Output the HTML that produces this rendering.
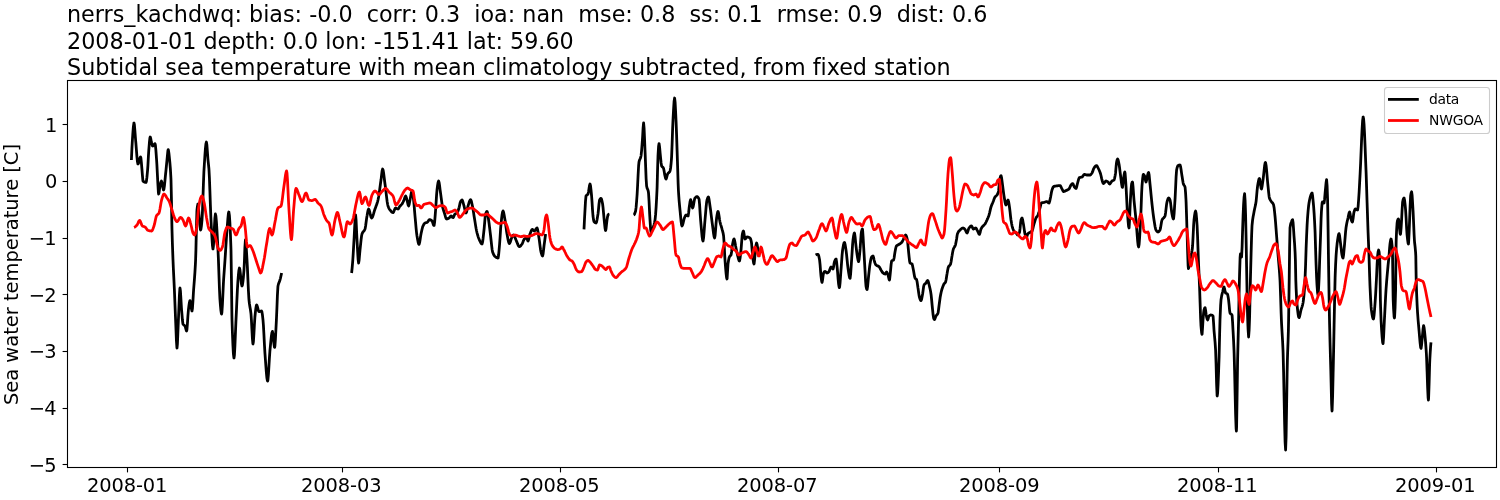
<!DOCTYPE html>
<html lang="en"><head><meta charset="utf-8"><title>nerrs_kachdwq</title>
<style>html,body{margin:0;padding:0;background:#fff}body{width:1500px;height:500px;overflow:hidden}svg{display:block}text{font-family:"DejaVu Sans", "Liberation Sans", sans-serif;fill:#000;font-variant-ligatures:none}</style></head><body>
<svg width="1500" height="500" viewBox="0 0 1500 500">
<rect width="1500" height="500" fill="#fff"/>
<text x="67.0" y="22.0" font-size="22.27" xml:space="preserve">nerrs_kachdwq: bias: -0.0  corr: 0.3  ioa: nan  mse: 0.8  ss: 0.1  rmse: 0.9  dist: 0.6</text>
<text x="67.0" y="48.6" font-size="22.27" xml:space="preserve">2008-01-01 depth: 0.0 lon: -151.41 lat: 59.60</text>
<text x="67.0" y="75.2" font-size="22.27" xml:space="preserve">Subtidal sea temperature with mean climatology subtracted, from fixed station</text>
<g fill="none" stroke-width="2.78" stroke-linejoin="round" stroke-linecap="butt">
<path stroke="#000" d="M131.4 160.0 L131.9 148.8 L132.4 140.0 L132.9 132.7 L133.4 126.4 L133.9 123.1 L134.0 123.0 L134.4 124.9 L134.9 130.8 L135.4 137.7 L135.6 140.0 L135.9 143.4 L136.4 149.9 L136.9 156.3 L137.4 161.4 L137.9 163.9 L138.0 164.0 L138.4 163.6 L138.9 162.1 L139.4 160.1 L139.9 158.2 L140.4 157.1 L140.6 157.0 L140.9 158.0 L141.4 162.9 L141.9 168.9 L142.0 170.0 L142.4 175.2 L142.9 180.7 L143.0 181.0 L143.4 181.4 L143.9 181.8 L144.4 182.1 L144.9 182.2 L145.4 182.4 L145.9 182.4 L146.0 182.4 L146.4 181.3 L146.9 177.4 L147.4 172.2 L147.6 170.0 L147.9 165.7 L148.4 156.4 L148.8 150.0 L148.9 148.8 L149.4 142.5 L149.9 137.9 L150.2 137.0 L150.4 137.2 L150.9 139.4 L151.4 142.2 L151.6 143.0 L151.9 144.2 L152.4 145.8 L152.6 146.0 L152.9 145.9 L153.4 145.4 L153.9 144.7 L154.4 144.0 L154.9 143.6 L155.0 143.6 L155.4 145.2 L155.9 150.4 L156.4 157.3 L156.6 160.0 L156.9 164.8 L157.4 174.7 L157.9 184.4 L158.0 186.0 L158.4 192.6 L158.6 194.0 L158.9 193.3 L159.4 190.0 L159.9 186.5 L160.0 186.0 L160.4 184.1 L160.9 182.0 L161.4 181.0 L161.9 182.2 L162.4 184.9 L162.9 187.8 L163.4 189.8 L163.6 190.0 L163.9 189.4 L164.4 186.1 L164.9 181.2 L165.4 175.9 L165.6 174.0 L165.9 171.2 L166.4 166.0 L166.9 160.9 L167.0 160.0 L167.4 155.7 L167.9 150.7 L168.2 149.6 L168.4 149.9 L168.9 153.1 L169.4 158.0 L169.6 160.0 L169.9 163.0 L170.4 169.1 L170.9 177.8 L171.0 180.0 L171.4 197.3 L171.9 225.8 L172.0 230.0 L172.4 243.5 L172.9 257.5 L173.0 260.0 L173.4 269.2 L173.9 279.4 L174.4 290.0 L174.9 302.5 L175.4 315.3 L175.6 320.0 L175.9 327.4 L176.4 340.3 L176.9 347.7 L177.0 348.0 L177.4 344.1 L177.9 332.3 L178.4 320.0 L178.9 307.9 L179.4 295.3 L179.9 288.2 L180.0 288.0 L180.4 290.6 L180.9 298.5 L181.4 307.3 L181.6 310.0 L181.9 313.7 L182.4 319.8 L182.9 323.7 L183.0 324.0 L183.4 324.6 L183.9 325.0 L184.4 325.4 L184.9 325.9 L185.0 326.0 L185.4 327.1 L185.9 329.2 L186.4 330.8 L186.6 331.0 L186.9 329.8 L187.4 323.8 L187.9 316.0 L188.4 310.0 L188.9 306.0 L189.4 302.5 L189.9 300.7 L190.0 300.6 L190.4 301.7 L190.9 305.0 L191.4 308.8 L191.9 310.9 L192.0 311.0 L192.4 308.8 L192.9 301.6 L193.4 293.0 L193.6 290.0 L193.9 286.0 L194.4 279.6 L194.9 272.6 L195.4 264.1 L195.6 260.0 L195.9 250.6 L196.4 228.4 L196.9 211.4 L197.0 210.0 L197.4 206.5 L197.9 204.1 L198.0 204.0 L198.4 206.4 L198.9 213.4 L199.4 220.0 L199.9 225.4 L200.4 229.5 L200.6 230.0 L200.9 229.4 L201.4 226.0 L201.9 221.1 L202.0 220.0 L202.4 213.1 L202.9 199.4 L203.4 184.2 L203.9 171.8 L204.0 170.0 L204.4 163.5 L204.9 155.5 L205.4 148.6 L205.9 143.8 L206.4 142.0 L206.9 145.0 L207.4 151.8 L207.9 158.9 L208.0 160.0 L208.4 163.7 L208.9 168.7 L209.0 170.0 L209.4 177.5 L209.9 190.9 L210.4 205.5 L210.9 218.0 L211.0 220.0 L211.4 227.7 L211.9 237.3 L212.4 245.0 L212.9 248.9 L213.0 249.0 L213.4 246.4 L213.9 237.9 L214.4 227.2 L214.9 217.9 L215.4 214.0 L215.9 216.1 L216.4 221.6 L216.9 229.5 L217.4 238.7 L217.9 248.2 L218.0 250.0 L218.4 259.0 L218.9 273.3 L219.4 287.7 L219.9 298.6 L220.0 300.0 L220.4 305.1 L220.9 310.5 L221.4 313.7 L221.6 314.0 L221.9 312.5 L222.4 305.0 L222.9 294.1 L223.4 283.5 L223.6 280.0 L223.9 275.5 L224.4 268.5 L224.9 261.4 L225.0 260.0 L225.4 253.9 L225.9 245.9 L226.4 238.2 L226.9 231.2 L227.0 230.0 L227.4 224.8 L227.9 218.3 L228.4 213.4 L228.8 212.0 L228.9 212.1 L229.4 215.4 L229.9 222.8 L230.4 233.6 L230.9 247.0 L231.0 250.0 L231.4 275.9 L231.9 315.7 L232.0 320.0 L232.4 332.1 L232.9 344.8 L233.4 353.8 L233.9 357.9 L234.0 358.0 L234.4 355.3 L234.9 346.2 L235.4 333.9 L235.9 322.0 L236.0 320.0 L236.4 311.6 L236.9 300.3 L237.4 289.6 L237.9 281.3 L238.0 280.0 L238.4 275.2 L238.9 270.2 L239.4 268.0 L239.9 269.7 L240.4 273.9 L240.9 279.1 L241.4 283.6 L241.9 285.9 L242.0 286.0 L242.4 285.1 L242.9 281.9 L243.4 277.0 L243.9 271.2 L244.0 270.0 L244.4 261.6 L244.9 247.4 L245.4 240.0 L245.9 243.0 L246.4 250.1 L246.9 258.4 L247.0 260.0 L247.4 267.4 L247.9 278.9 L248.4 290.2 L248.9 298.8 L249.0 300.0 L249.4 303.5 L249.9 306.7 L250.4 309.5 L250.9 313.1 L251.0 314.0 L251.4 319.6 L251.9 329.4 L252.4 338.7 L252.9 343.8 L253.0 344.0 L253.4 341.7 L253.9 334.1 L254.4 324.7 L254.9 317.0 L255.0 316.0 L255.4 312.2 L255.9 307.9 L256.4 305.3 L256.6 305.0 L256.9 305.3 L257.4 306.7 L257.9 308.7 L258.4 310.6 L258.9 311.6 L259.0 311.6 L259.4 311.6 L259.9 311.4 L260.4 311.3 L260.9 311.1 L261.4 311.0 L261.6 311.0 L261.9 311.6 L262.4 314.7 L262.9 319.1 L263.0 320.0 L263.4 325.0 L263.9 334.0 L264.4 344.0 L264.9 352.6 L265.0 354.0 L265.4 359.5 L265.9 366.5 L266.4 372.9 L266.9 378.0 L267.4 380.7 L267.6 381.0 L267.9 380.0 L268.4 374.7 L268.9 366.7 L269.4 358.1 L269.9 351.0 L270.0 350.0 L270.4 345.9 L270.9 340.7 L271.4 336.0 L271.9 332.7 L272.4 331.4 L272.9 333.5 L273.4 338.3 L273.9 343.6 L274.4 347.0 L274.6 347.4 L274.9 346.1 L275.4 339.5 L275.9 329.8 L276.4 320.0 L276.9 308.5 L277.4 295.5 L277.9 286.8 L278.0 286.0 L278.4 284.2 L278.9 282.8 L279.4 281.7 L279.9 280.3 L280.0 280.0 L280.4 278.5 L280.9 276.3 L281.4 274.0 L281.6 273.0"/>
<path stroke="#000" d="M351.6 273.0 L352.1 268.4 L352.6 262.6 L352.8 260.0 L353.1 255.6 L353.6 246.9 L354.0 240.0 L354.1 238.3 L354.6 228.3 L355.1 219.1 L355.6 215.0 L356.1 220.5 L356.6 231.8 L357.0 240.0 L357.1 241.7 L357.6 251.0 L358.1 259.4 L358.6 263.0 L359.1 260.2 L359.6 254.3 L360.0 250.0 L360.1 249.1 L360.6 244.4 L361.1 239.7 L361.6 235.8 L362.0 234.0 L362.1 233.7 L362.6 232.6 L363.1 231.9 L363.6 231.3 L364.1 230.8 L364.6 229.9 L365.0 229.0 L365.1 228.7 L365.6 226.0 L366.1 222.3 L366.6 218.5 L367.0 216.0 L367.1 215.5 L367.6 212.6 L368.1 210.1 L368.6 209.0 L369.1 209.7 L369.6 211.3 L370.1 213.5 L370.6 215.7 L371.1 217.3 L371.6 218.0 L372.1 217.6 L372.6 216.7 L373.1 215.3 L373.6 213.7 L374.1 211.9 L374.6 210.2 L375.0 209.0 L375.1 208.7 L375.6 207.4 L376.1 206.1 L376.6 204.7 L377.1 203.2 L377.6 201.6 L378.0 200.0 L378.1 199.6 L378.6 197.0 L379.1 193.8 L379.6 190.3 L380.1 186.5 L380.6 182.8 L381.0 180.0 L381.1 179.3 L381.6 174.9 L382.1 170.8 L382.6 169.0 L383.1 170.1 L383.6 173.0 L384.1 176.9 L384.6 181.0 L385.0 184.0 L385.1 184.7 L385.6 188.6 L386.1 192.9 L386.6 197.2 L387.1 201.2 L387.6 204.3 L388.0 206.0 L388.1 206.3 L388.6 207.6 L389.1 208.6 L389.6 209.5 L390.0 210.0 L390.1 210.1 L390.6 210.7 L391.1 211.3 L391.6 211.9 L392.1 212.3 L392.6 212.5 L393.0 212.6 L393.1 212.6 L393.6 212.0 L394.1 210.8 L394.6 209.5 L395.1 208.4 L395.6 208.0 L396.1 208.1 L396.6 208.4 L397.1 208.7 L397.6 208.9 L398.0 209.0 L398.1 209.0 L398.6 208.5 L399.1 207.6 L399.6 206.6 L400.0 206.0 L400.1 205.9 L400.6 205.4 L401.1 204.9 L401.6 204.5 L402.0 204.0 L402.1 203.9 L402.6 203.0 L403.1 202.0 L403.6 200.9 L404.0 200.0 L404.1 199.8 L404.6 198.2 L405.1 196.7 L405.6 196.0 L406.1 196.8 L406.6 198.5 L407.0 200.0 L407.1 200.4 L407.6 202.7 L408.1 205.0 L408.6 206.0 L409.1 204.8 L409.6 202.1 L410.0 200.0 L410.1 199.5 L410.6 196.8 L411.1 193.9 L411.6 191.7 L412.0 191.0 L412.1 191.1 L412.6 192.8 L413.1 196.1 L413.6 200.0 L414.1 205.0 L414.6 211.3 L415.0 216.0 L415.1 217.1 L415.6 222.7 L416.1 228.3 L416.6 233.1 L417.0 236.0 L417.1 236.6 L417.6 239.6 L418.1 242.1 L418.6 243.9 L419.0 244.4 L419.1 244.3 L419.6 242.7 L420.1 239.7 L420.6 236.2 L421.0 234.0 L421.1 233.5 L421.6 231.2 L422.1 229.0 L422.6 227.1 L423.0 226.0 L423.1 225.8 L423.6 224.8 L424.1 223.9 L424.6 223.3 L425.0 223.0 L425.1 223.0 L425.6 222.8 L426.1 222.7 L426.6 222.5 L427.0 222.4 L427.1 222.3 L427.6 221.9 L428.1 221.2 L428.6 220.4 L429.1 219.8 L429.6 219.6 L430.1 219.7 L430.6 219.9 L431.1 220.2 L431.6 220.6 L432.0 221.0 L432.1 221.1 L432.6 222.3 L433.1 223.9 L433.6 225.2 L434.0 225.6 L434.1 225.5 L434.6 222.3 L435.1 216.4 L435.6 210.0 L436.1 202.7 L436.6 194.7 L437.0 190.0 L437.1 189.2 L437.6 185.2 L438.1 182.2 L438.6 181.0 L439.1 182.4 L439.6 185.8 L440.1 189.8 L440.4 192.0 L440.6 193.4 L441.1 197.1 L441.6 201.0 L442.1 204.4 L442.4 206.0 L442.6 206.9 L443.1 208.9 L443.6 210.5 L444.1 212.1 L444.4 213.0 L444.6 213.6 L445.1 215.4 L445.6 217.2 L446.1 218.5 L446.6 219.0 L447.1 218.9 L447.6 218.8 L448.1 218.5 L448.6 218.2 L449.0 218.0 L449.1 217.9 L449.6 217.4 L450.1 216.7 L450.6 216.2 L451.0 216.0 L451.1 216.0 L451.6 216.3 L452.1 216.9 L452.6 217.4 L453.0 217.6 L453.1 217.6 L453.6 216.9 L454.1 215.7 L454.6 214.6 L455.0 214.0 L455.1 213.9 L455.6 213.7 L456.1 213.5 L456.6 213.3 L457.0 213.0 L457.1 212.9 L457.6 212.1 L458.1 210.8 L458.6 209.3 L459.0 208.0 L459.1 207.6 L459.6 205.3 L460.1 202.9 L460.4 202.0 L460.6 201.6 L461.1 200.8 L461.6 200.2 L462.0 200.0 L462.1 200.0 L462.6 200.9 L463.1 202.6 L463.6 204.5 L464.0 206.0 L464.1 206.3 L464.6 208.5 L465.1 210.7 L465.6 212.5 L466.0 213.0 L466.1 213.0 L466.6 211.9 L467.1 209.8 L467.6 207.5 L468.0 206.0 L468.1 205.7 L468.6 204.1 L469.1 202.5 L469.6 201.0 L470.1 200.0 L470.6 199.6 L471.1 200.4 L471.6 202.2 L472.1 204.6 L472.4 206.0 L472.6 206.9 L473.1 209.7 L473.6 212.9 L474.1 216.2 L474.4 218.0 L474.6 219.2 L475.1 222.4 L475.6 225.6 L476.1 228.5 L476.6 231.0 L477.1 233.1 L477.6 234.9 L478.1 236.6 L478.6 238.0 L479.0 239.0 L479.1 239.2 L479.6 240.4 L480.1 241.5 L480.6 242.5 L481.1 243.3 L481.6 243.9 L482.0 244.0 L482.1 243.9 L482.6 242.0 L483.1 238.2 L483.6 233.6 L484.0 230.0 L484.1 229.1 L484.6 223.4 L485.1 217.5 L485.6 214.0 L486.1 212.6 L486.6 211.7 L487.0 211.4 L487.1 211.5 L487.6 213.2 L488.1 216.5 L488.6 220.0 L489.1 223.5 L489.6 227.6 L490.1 231.8 L490.6 236.0 L491.1 240.5 L491.6 245.2 L492.1 249.4 L492.6 252.0 L493.1 253.4 L493.6 254.5 L494.1 255.4 L494.6 256.0 L495.0 256.4 L495.1 256.5 L495.6 256.9 L496.1 257.3 L496.6 257.6 L497.1 257.8 L497.6 258.0 L498.0 258.0 L498.1 257.9 L498.6 255.1 L499.1 249.8 L499.6 244.0 L500.1 237.0 L500.6 228.9 L501.0 224.0 L501.1 223.1 L501.6 218.5 L502.1 214.5 L502.6 211.8 L503.0 211.0 L503.1 211.0 L503.6 212.3 L504.1 214.7 L504.6 217.7 L505.0 220.0 L505.1 220.6 L505.6 224.0 L506.1 227.9 L506.6 231.6 L507.0 234.0 L507.1 234.5 L507.6 237.2 L508.1 239.9 L508.6 242.0 L509.1 243.4 L509.4 243.6 L509.6 243.5 L510.1 242.5 L510.6 241.0 L511.1 239.3 L511.6 238.0 L512.1 237.0 L512.6 236.0 L513.1 235.3 L513.6 235.0 L514.1 235.4 L514.6 236.4 L515.1 237.7 L515.6 239.1 L516.0 240.0 L516.1 240.2 L516.6 241.4 L517.1 242.6 L517.6 243.9 L518.1 245.1 L518.6 246.0 L519.1 246.5 L519.4 246.6 L519.6 246.6 L520.1 246.3 L520.6 245.9 L521.1 245.2 L521.6 244.6 L522.0 244.0 L522.1 243.9 L522.6 242.8 L523.1 241.6 L523.6 240.3 L524.1 239.3 L524.4 239.0 L524.6 238.9 L525.1 238.5 L525.6 238.2 L526.1 238.1 L526.6 238.0 L527.1 238.9 L527.6 240.4 L528.0 241.0 L528.1 241.0 L528.6 239.8 L529.1 237.7 L529.6 235.4 L530.0 234.0 L530.1 233.7 L530.6 232.4 L531.1 231.2 L531.6 230.1 L532.1 229.5 L532.4 229.4 L532.6 229.4 L533.1 229.9 L533.6 230.4 L534.1 230.9 L534.4 231.0 L534.6 230.9 L535.1 230.5 L535.6 229.7 L536.1 228.8 L536.6 228.2 L537.0 228.0 L537.1 228.0 L537.6 229.4 L538.1 232.2 L538.6 235.5 L539.0 238.0 L539.1 238.6 L539.6 242.3 L540.1 246.4 L540.6 250.0 L541.0 252.0 L541.1 252.4 L541.6 254.1 L542.1 255.5 L542.6 256.0 L543.1 253.9 L543.6 249.5 L544.0 246.0 L544.1 245.3 L544.6 241.6 L545.1 237.8 L545.6 234.0"/>
<path stroke="#000" d="M584.0 229.4 L584.5 219.0 L585.0 210.0 L585.5 201.2 L586.0 196.0 L586.5 195.3 L587.0 194.9 L587.5 194.6 L588.0 194.0 L588.5 192.0 L589.0 188.6 L589.5 185.4 L590.0 184.0 L590.5 185.7 L591.0 189.9 L591.5 195.0 L591.6 196.0 L592.0 201.3 L592.5 209.7 L593.0 216.0 L593.5 219.6 L594.0 221.6 L594.5 222.2 L595.0 222.6 L595.5 222.9 L596.0 223.0 L596.5 222.2 L597.0 220.0 L597.5 217.1 L598.0 214.0 L598.5 209.5 L599.0 204.0 L599.5 200.3 L599.6 200.0 L600.0 199.3 L600.5 198.6 L601.0 198.4 L601.5 199.1 L602.0 201.0 L602.5 203.5 L602.6 204.0 L603.0 207.1 L603.5 212.7 L604.0 218.0 L604.5 223.0 L605.0 227.9 L605.5 230.5 L605.6 230.6 L606.0 229.0 L606.5 224.3 L607.0 220.0 L607.5 216.9 L608.0 215.0 L608.5 214.4 L609.0 214.1 L609.4 214.0"/>
<path stroke="#000" d="M633.6 215.0 L634.1 214.7 L634.6 213.9 L635.1 212.6 L635.6 211.0 L636.1 207.4 L636.6 201.3 L637.0 196.0 L637.1 194.6 L637.6 185.5 L638.1 175.0 L638.6 166.0 L639.0 162.0 L639.1 161.5 L639.6 159.8 L640.1 158.8 L640.6 157.6 L641.0 156.0 L641.1 155.4 L641.6 150.6 L642.1 144.0 L642.4 140.0 L642.6 137.0 L643.1 127.9 L643.6 123.0 L644.1 128.5 L644.6 140.4 L645.0 150.0 L645.1 152.2 L645.6 165.4 L646.1 178.5 L646.6 186.0 L647.1 188.1 L647.6 189.3 L648.1 190.6 L648.4 192.0 L648.6 193.8 L649.1 202.2 L649.6 212.9 L650.0 220.0 L650.1 221.5 L650.6 229.1 L651.0 232.0 L651.1 232.0 L651.6 231.5 L652.1 230.4 L652.6 229.1 L653.0 228.0 L653.1 227.7 L653.6 226.3 L654.1 224.5 L654.6 222.3 L655.0 220.0 L655.1 219.3 L655.6 214.4 L656.1 207.3 L656.6 198.3 L657.0 190.0 L657.1 187.4 L657.6 168.5 L658.0 156.0 L658.1 154.2 L658.6 146.2 L659.0 143.6 L659.1 143.7 L659.6 147.2 L660.1 152.9 L660.4 156.0 L660.6 157.9 L661.1 162.9 L661.6 166.0 L662.1 166.7 L662.6 167.1 L663.1 167.6 L663.4 168.0 L663.6 168.5 L664.1 171.0 L664.6 174.1 L665.0 176.0 L665.1 176.4 L665.6 178.3 L666.0 179.0 L666.1 179.0 L666.6 177.7 L667.1 175.6 L667.6 174.0 L668.1 173.3 L668.6 172.8 L669.1 172.4 L669.6 171.8 L670.0 171.0 L670.1 170.7 L670.6 168.0 L671.1 163.4 L671.4 160.0 L671.6 156.9 L672.1 144.2 L672.6 129.4 L673.0 120.0 L673.1 118.2 L673.6 108.9 L674.1 101.2 L674.6 98.0 L675.1 102.1 L675.6 111.5 L676.0 120.0 L676.1 122.1 L676.6 135.4 L677.1 150.9 L677.4 160.0 L677.6 166.3 L678.1 182.7 L678.4 190.0 L678.6 193.4 L679.1 200.5 L679.6 206.0 L680.0 210.0 L680.1 211.0 L680.6 216.3 L681.1 221.4 L681.6 225.0 L682.0 226.0 L682.1 226.0 L682.6 225.0 L683.1 223.1 L683.6 220.9 L684.1 218.9 L684.4 218.0 L684.6 217.5 L685.1 216.3 L685.6 215.3 L686.0 215.0 L686.1 215.0 L686.6 215.2 L687.1 215.6 L687.6 215.9 L688.0 216.0 L688.1 215.9 L688.6 213.0 L689.1 208.3 L689.4 206.0 L689.6 204.7 L690.1 201.3 L690.6 199.6 L691.1 200.9 L691.6 203.8 L692.1 206.7 L692.6 208.0 L693.1 207.0 L693.6 204.5 L694.1 201.6 L694.6 199.1 L695.0 198.0 L695.1 197.9 L695.6 197.4 L696.1 196.9 L696.6 196.7 L697.0 196.6 L697.1 196.6 L697.6 196.8 L698.1 197.4 L698.6 198.2 L699.0 199.0 L699.1 199.4 L699.6 204.7 L700.1 212.9 L700.6 220.0 L701.1 225.7 L701.6 231.5 L702.1 236.6 L702.6 240.0 L703.0 241.0 L703.1 240.9 L703.6 237.8 L704.1 231.7 L704.6 224.8 L705.0 220.0 L705.1 218.9 L705.6 213.1 L706.1 207.1 L706.6 202.3 L707.0 200.0 L707.1 199.7 L707.6 198.2 L708.1 197.2 L708.4 197.0 L708.6 197.2 L709.1 199.6 L709.6 203.1 L710.0 206.0 L710.1 206.7 L710.6 210.3 L711.1 214.3 L711.6 218.4 L712.1 222.4 L712.6 226.0 L713.1 229.8 L713.6 233.7 L714.1 236.8 L714.6 238.0 L715.1 235.5 L715.6 229.6 L716.1 222.9 L716.6 218.0 L717.1 214.8 L717.6 212.2 L718.0 211.4 L718.1 211.5 L718.6 213.2 L719.1 216.3 L719.6 219.8 L720.0 222.0 L720.1 222.4 L720.6 224.3 L721.1 225.9 L721.6 227.5 L722.0 229.0 L722.1 229.4 L722.6 231.1 L723.1 233.1 L723.6 236.0 L724.1 243.0 L724.6 253.3 L725.0 260.0 L725.1 261.3 L725.6 267.8 L726.1 273.7 L726.6 277.8 L727.0 279.0 L727.1 278.6 L727.6 270.4 L728.0 264.0 L728.1 263.2 L728.6 260.0 L729.1 257.8 L729.4 257.0 L729.6 256.6 L730.1 256.1 L730.6 255.6 L731.0 255.0 L731.1 254.7 L731.6 251.7 L732.1 247.4 L732.6 244.0 L733.1 241.6 L733.6 239.6 L734.0 239.0 L734.1 239.0 L734.6 240.4 L735.1 242.9 L735.6 245.9 L736.0 248.0 L736.1 248.5 L736.6 250.8 L737.1 253.2 L737.6 255.5 L738.0 257.0 L738.1 257.4 L738.6 259.3 L739.1 260.7 L739.4 261.0 L739.6 260.7 L740.1 258.0 L740.6 253.7 L741.0 250.0 L741.1 249.1 L741.6 242.7 L742.1 236.3 L742.4 234.0 L742.6 233.1 L743.1 231.4 L743.4 231.0 L743.6 231.3 L744.1 234.3 L744.6 237.8 L745.0 239.0 L745.1 239.0 L745.6 238.6 L746.1 237.9 L746.6 237.2 L747.0 237.0 L747.1 237.0 L747.6 237.0 L748.1 237.1 L748.6 237.3 L749.1 237.5 L749.6 237.8 L750.0 238.0 L750.1 238.1 L750.6 239.0 L751.1 240.7 L751.4 242.0 L751.6 243.5 L752.1 250.0 L752.6 256.0 L753.1 259.9 L753.6 263.0 L754.0 264.0 L754.1 263.8 L754.6 259.6 L755.1 253.0 L755.4 250.0 L755.6 248.5 L756.1 244.7 L756.6 243.0 L757.1 244.4 L757.6 247.4 L758.0 250.0 L758.1 250.6 L758.6 254.0 L759.0 257.0"/>
<path stroke="#000" d="M815.6 255.0 L816.1 254.7 L816.6 254.5 L817.1 254.4 L817.6 254.4 L818.0 254.4 L818.1 254.4 L818.6 255.4 L819.1 257.4 L819.6 260.0 L820.1 264.9 L820.6 271.6 L821.0 276.0 L821.1 276.8 L821.6 280.9 L822.0 282.4 L822.1 282.3 L822.6 279.7 L823.1 275.6 L823.6 273.0 L824.1 272.1 L824.6 271.6 L825.0 271.4 L825.1 271.4 L825.6 271.7 L826.1 272.3 L826.6 272.8 L827.0 273.0 L827.1 273.0 L827.6 272.8 L828.1 272.5 L828.6 272.0 L829.0 271.6 L829.1 271.5 L829.6 270.3 L830.1 268.7 L830.6 267.4 L831.0 267.0 L831.1 267.0 L831.6 267.4 L832.1 268.1 L832.6 268.8 L833.0 269.0 L833.1 268.9 L833.6 266.6 L834.1 263.3 L834.4 262.0 L834.6 261.4 L835.1 260.2 L835.6 259.3 L836.0 259.0 L836.1 259.1 L836.6 261.9 L837.1 267.0 L837.4 270.0 L837.6 272.2 L838.1 278.8 L838.6 284.0 L839.1 286.9 L839.4 287.6 L839.6 287.1 L840.1 282.5 L840.6 275.4 L841.0 270.0 L841.1 268.8 L841.6 261.8 L842.1 254.9 L842.6 250.0 L843.1 246.9 L843.6 244.3 L844.1 242.7 L844.4 242.4 L844.6 242.6 L845.1 244.4 L845.6 247.4 L846.0 250.0 L846.1 250.7 L846.6 254.9 L847.1 259.9 L847.6 264.8 L848.0 268.0 L848.1 268.7 L848.6 272.2 L849.1 275.4 L849.6 277.7 L850.0 278.4 L850.1 278.3 L850.6 274.4 L851.1 267.3 L851.6 260.0 L852.1 252.4 L852.6 244.4 L853.0 240.0 L853.1 239.3 L853.6 235.8 L854.1 233.5 L854.4 233.0 L854.6 233.4 L855.1 236.9 L855.6 242.2 L856.0 246.0 L856.1 246.8 L856.6 251.0 L857.1 254.9 L857.6 258.0 L858.1 260.4 L858.6 261.6 L859.1 259.4 L859.6 254.4 L860.0 250.0 L860.1 248.9 L860.6 241.6 L861.1 234.5 L861.4 232.0 L861.6 231.1 L862.1 229.4 L862.4 229.0 L862.6 229.8 L863.1 237.0 L863.6 246.0 L864.1 254.3 L864.6 263.1 L865.0 270.0 L865.1 271.7 L865.6 281.1 L866.0 286.0 L866.1 286.6 L866.6 288.9 L867.0 289.6 L867.1 289.5 L867.6 286.5 L868.1 281.2 L868.6 276.0 L869.1 271.4 L869.6 266.9 L870.0 264.0 L870.1 263.4 L870.6 260.6 L871.1 258.3 L871.6 257.0 L872.1 256.5 L872.6 256.1 L873.0 256.0 L873.1 256.1 L873.6 257.5 L874.1 260.0 L874.6 262.0 L875.1 263.3 L875.6 264.4 L876.0 265.0 L876.1 265.1 L876.6 265.4 L877.1 265.7 L877.6 265.9 L878.1 266.1 L878.6 266.3 L879.0 266.6 L879.1 266.7 L879.6 267.4 L880.1 268.3 L880.6 269.3 L881.0 270.0 L881.1 270.2 L881.6 271.0 L882.1 271.9 L882.6 272.6 L883.0 273.0 L883.1 273.1 L883.6 273.4 L884.1 273.7 L884.6 273.9 L885.0 274.0 L885.1 274.0 L885.6 273.4 L886.1 272.5 L886.6 272.0 L887.1 272.6 L887.6 273.9 L888.0 275.0 L888.1 275.3 L888.6 277.5 L889.1 279.5 L889.4 280.0 L889.6 279.5 L890.1 275.2 L890.6 270.0 L891.1 264.5 L891.6 261.0 L892.1 260.6 L892.6 260.5 L893.1 260.3 L893.6 260.0 L894.1 258.0 L894.6 254.5 L895.0 252.0 L895.1 251.5 L895.6 248.8 L896.1 246.7 L896.4 246.0 L896.6 245.8 L897.1 245.4 L897.6 245.1 L898.1 244.9 L898.6 244.6 L899.0 244.4 L899.1 244.3 L899.6 244.0 L900.1 243.7 L900.6 243.3 L901.1 242.9 L901.6 242.4 L902.0 242.0 L902.1 241.9 L902.6 241.0 L903.1 240.0 L903.6 238.8 L904.0 238.0 L904.1 237.8 L904.6 236.6 L905.1 235.5 L905.6 235.0 L906.1 235.5 L906.6 236.8 L907.1 238.7 L907.4 240.0 L907.6 241.3 L908.1 246.5 L908.6 252.0 L909.1 256.9 L909.6 261.3 L910.0 263.0 L910.1 263.1 L910.6 263.4 L911.1 263.5 L911.6 263.7 L912.0 264.0 L912.1 264.1 L912.6 265.9 L913.1 268.5 L913.4 270.0 L913.6 271.0 L914.1 274.0 L914.6 276.7 L915.0 278.0 L915.1 278.2 L915.6 278.7 L916.1 279.0 L916.6 279.6 L917.1 281.7 L917.6 285.2 L918.0 288.0 L918.1 288.6 L918.6 292.3 L919.1 295.6 L919.4 297.0 L919.6 297.7 L920.1 299.2 L920.6 300.3 L921.0 300.6 L921.1 300.6 L921.6 299.2 L922.1 296.7 L922.6 294.0 L923.1 290.5 L923.6 286.7 L924.0 285.0 L924.1 284.8 L924.6 284.2 L925.1 283.8 L925.6 283.4 L926.0 283.0 L926.1 282.9 L926.6 281.9 L927.1 280.9 L927.6 280.4 L928.1 281.1 L928.6 282.7 L929.1 284.8 L929.4 286.0 L929.6 286.8 L930.1 289.0 L930.6 291.5 L931.0 294.0 L931.1 294.7 L931.6 299.5 L932.1 305.0 L932.4 308.0 L932.6 309.9 L933.1 314.8 L933.6 318.0 L934.1 319.3 L934.4 319.6 L934.6 319.5 L935.1 318.4 L935.6 317.0 L936.0 316.0 L936.1 315.8 L936.6 315.2 L937.1 314.6 L937.6 313.9 L938.0 313.0 L938.1 312.7 L938.6 309.2 L939.0 306.0 L939.1 305.3 L939.6 301.5 L940.1 297.8 L940.4 296.0 L940.6 294.9 L941.1 292.5 L941.6 290.4 L942.0 289.0 L942.1 288.7 L942.6 287.2 L943.1 285.9 L943.6 284.7 L944.0 284.0 L944.1 283.8 L944.6 283.3 L945.1 282.8 L945.6 282.0 L946.1 279.8 L946.6 276.5 L947.0 274.0 L947.1 273.5 L947.6 270.5 L948.1 268.0 L948.4 267.0 L948.6 266.6 L949.1 265.9 L949.6 265.4 L950.1 264.9 L950.6 264.0 L951.1 261.8 L951.6 258.5 L952.0 256.0 L952.1 255.5 L952.6 252.6 L953.1 250.1 L953.4 249.0 L953.6 248.5 L954.1 247.5 L954.6 246.7 L955.1 245.8 L955.4 245.0 L955.6 244.3 L956.1 241.8 L956.6 239.0 L957.1 235.5 L957.4 234.0 L957.6 233.5 L958.1 232.4 L958.6 231.5 L959.1 230.9 L959.6 230.4 L960.0 230.0 L960.1 229.9 L960.6 229.4 L961.1 229.0 L961.6 228.6 L962.1 228.3 L962.6 228.1 L963.0 228.0 L963.1 228.0 L963.6 228.2 L964.1 228.5 L964.6 229.0 L965.0 229.4 L965.1 229.5 L965.6 230.5 L966.1 231.7 L966.6 232.7 L967.0 233.0 L967.1 233.0 L967.6 232.1 L968.1 230.5 L968.6 228.8 L969.0 228.0 L969.1 227.9 L969.6 227.3 L970.1 226.7 L970.6 226.3 L971.1 226.0 L971.4 226.0 L971.6 226.1 L972.1 226.8 L972.6 227.9 L973.1 228.8 L973.4 229.0 L973.6 229.0 L974.1 228.8 L974.6 228.4 L975.1 228.1 L975.6 228.0 L976.1 228.3 L976.6 229.1 L977.1 230.1 L977.6 231.0 L978.1 232.1 L978.6 233.3 L979.1 234.2 L979.4 234.4 L979.6 234.2 L980.1 232.6 L980.6 230.3 L981.0 229.0 L981.1 228.8 L981.6 227.9 L982.1 227.1 L982.6 226.5 L983.0 226.0 L983.1 225.9 L983.6 225.4 L984.1 224.9 L984.6 224.5 L985.0 224.0 L985.1 223.9 L985.6 223.0 L986.1 222.0 L986.6 220.9 L987.0 220.0 L987.1 219.8 L987.6 218.7 L988.1 217.5 L988.6 216.2 L989.0 215.0 L989.1 214.7 L989.6 212.8 L990.1 210.6 L990.6 208.4 L991.0 207.0 L991.1 206.7 L991.6 205.3 L992.1 204.1 L992.6 203.0 L993.0 202.0 L993.1 201.7 L993.6 200.4 L994.1 199.0 L994.6 197.7 L995.0 197.0 L995.1 196.9 L995.6 196.3 L996.1 195.9 L996.6 195.5 L997.0 195.0 L997.1 194.9 L997.6 194.0 L998.1 192.8 L998.6 191.0 L999.1 185.6 L999.6 180.0 L1000.1 177.7 L1000.6 176.1 L1001.0 175.6 L1001.1 175.7 L1001.6 177.9 L1002.1 181.8 L1002.4 184.0 L1002.6 185.4 L1003.1 189.4 L1003.6 193.3 L1004.0 196.0 L1004.1 196.6 L1004.6 199.6 L1005.1 202.4 L1005.6 204.4 L1006.0 205.0 L1006.1 205.0 L1006.6 203.9 L1007.1 202.1 L1007.6 200.5 L1008.0 200.0 L1008.1 200.1 L1008.6 201.6 L1009.1 204.6 L1009.6 208.0 L1010.1 212.1 L1010.6 216.8 L1011.0 220.0 L1011.1 220.6 L1011.6 223.6 L1012.1 226.1 L1012.6 228.0 L1013.1 229.3 L1013.6 230.4 L1014.0 231.0 L1014.1 231.1 L1014.6 231.7 L1015.1 232.2 L1015.6 232.6 L1016.0 233.0 L1016.1 233.1 L1016.6 233.7 L1017.1 234.4 L1017.6 234.9 L1018.0 235.0 L1018.1 235.0 L1018.6 234.5 L1019.1 233.4 L1019.6 232.0 L1020.1 228.2 L1020.6 222.8 L1021.0 220.0 L1021.1 219.7 L1021.6 218.4 L1022.0 218.0 L1022.1 218.1 L1022.6 219.6 L1023.1 222.4 L1023.4 224.0 L1023.6 225.1 L1024.1 228.6 L1024.6 232.1 L1025.0 234.0 L1025.1 234.3 L1025.6 235.8 L1026.1 236.8 L1026.4 237.0 L1026.6 236.9 L1027.1 235.8 L1027.6 234.3 L1028.0 233.6 L1028.1 233.5 L1028.6 233.1 L1029.1 232.9 L1029.6 232.6 L1030.0 232.4 L1030.1 232.3 L1030.6 232.1 L1031.1 231.8 L1031.6 231.4 L1032.0 231.0 L1032.1 230.9 L1032.6 229.6 L1033.1 227.6 L1033.6 225.5 L1034.0 224.0 L1034.1 223.7 L1034.6 222.0 L1035.1 220.4 L1035.6 218.9 L1036.0 218.0 L1036.1 217.8 L1036.6 217.0 L1037.1 216.4 L1037.6 215.7 L1038.0 215.0 L1038.1 214.8 L1038.6 213.3 L1039.1 211.5 L1039.6 209.5 L1040.0 208.0 L1040.1 207.6 L1040.6 205.4 L1041.1 203.5 L1041.4 203.0 L1041.6 202.9 L1042.1 202.7 L1042.6 202.6 L1043.1 202.6 L1043.6 202.5 L1044.0 202.4 L1044.1 202.4 L1044.6 202.2 L1045.1 202.0 L1045.6 201.9 L1046.1 201.7 L1046.6 201.6 L1047.0 201.6 L1047.1 201.6 L1047.6 201.9 L1048.1 202.4 L1048.6 202.9 L1049.0 203.0 L1049.1 203.0 L1049.6 201.6 L1050.1 199.4 L1050.4 198.0 L1050.6 197.1 L1051.1 194.3 L1051.6 191.6 L1052.0 190.0 L1052.1 189.7 L1052.6 188.3 L1053.1 187.2 L1053.6 186.6 L1054.1 186.4 L1054.6 186.2 L1055.1 186.1 L1055.6 186.1 L1056.0 186.0 L1056.1 186.0 L1056.6 185.9 L1057.1 185.8 L1057.6 185.8 L1058.1 185.7 L1058.6 185.7 L1059.1 185.6 L1059.6 185.6 L1060.0 185.6 L1060.1 185.6 L1060.6 186.1 L1061.1 187.1 L1061.6 188.2 L1062.0 189.0 L1062.1 189.2 L1062.6 190.2 L1063.1 191.2 L1063.6 191.6 L1064.1 191.5 L1064.6 191.3 L1065.1 191.1 L1065.6 190.8 L1066.0 190.6 L1066.1 190.6 L1066.6 190.3 L1067.1 190.1 L1067.6 189.9 L1068.1 189.6 L1068.6 189.3 L1069.0 189.0 L1069.1 188.9 L1069.6 188.0 L1070.1 186.8 L1070.6 185.7 L1071.0 185.0 L1071.1 184.9 L1071.6 184.3 L1072.1 183.8 L1072.6 183.6 L1073.1 184.1 L1073.6 185.3 L1074.1 186.5 L1074.4 187.0 L1074.6 187.2 L1075.1 187.8 L1075.6 188.3 L1076.0 188.4 L1076.1 188.4 L1076.6 187.1 L1077.1 185.0 L1077.6 183.0 L1078.1 181.2 L1078.6 179.3 L1079.1 178.0 L1079.4 177.6 L1079.6 177.5 L1080.1 177.4 L1080.6 177.3 L1081.1 177.2 L1081.6 177.1 L1082.0 177.0 L1082.1 177.0 L1082.6 176.5 L1083.1 175.7 L1083.6 175.0 L1084.1 174.5 L1084.4 174.4 L1084.6 174.4 L1085.1 174.5 L1085.6 174.7 L1086.1 174.8 L1086.6 175.0 L1087.0 175.0 L1087.1 175.0 L1087.6 175.0 L1088.1 175.0 L1088.6 175.0 L1089.1 175.0 L1089.6 175.0 L1090.0 175.0 L1090.1 175.0 L1090.6 174.7 L1091.1 174.2 L1091.6 173.6 L1092.0 173.0 L1092.1 172.8 L1092.6 171.7 L1093.1 170.2 L1093.6 168.8 L1094.0 168.0 L1094.1 167.9 L1094.6 167.1 L1095.1 166.5 L1095.6 166.0 L1096.1 165.7 L1096.4 165.6 L1096.6 165.6 L1097.1 166.1 L1097.6 167.0 L1098.1 168.0 L1098.6 169.0 L1099.1 170.0 L1099.6 171.2 L1100.1 172.5 L1100.6 174.0 L1101.1 176.0 L1101.6 178.4 L1102.0 180.0 L1102.1 180.3 L1102.6 182.0 L1103.1 183.3 L1103.4 183.6 L1103.6 183.6 L1104.1 183.1 L1104.6 182.4 L1105.1 181.7 L1105.6 181.2 L1106.0 181.0 L1106.1 181.0 L1106.6 181.1 L1107.1 181.4 L1107.6 181.7 L1108.0 182.0 L1108.1 182.1 L1108.6 182.8 L1109.1 183.6 L1109.6 184.0 L1110.1 183.7 L1110.6 183.0 L1111.1 182.2 L1111.6 181.4 L1112.0 181.0 L1112.1 180.9 L1112.6 180.7 L1113.1 180.5 L1113.6 180.3 L1114.0 180.0 L1114.1 179.9 L1114.6 178.3 L1115.1 175.8 L1115.4 174.0 L1115.6 172.4 L1116.1 166.5 L1116.6 162.0 L1117.1 159.9 L1117.6 159.0 L1118.1 159.9 L1118.6 162.0 L1119.0 164.0 L1119.1 164.5 L1119.6 168.0 L1120.1 172.1 L1120.6 176.0 L1121.1 179.9 L1121.6 184.0 L1122.1 186.8 L1122.4 187.4 L1122.6 186.9 L1123.1 182.6 L1123.6 178.0 L1124.1 174.7 L1124.6 172.3 L1124.8 172.0 L1125.1 173.4 L1125.6 179.8 L1126.0 186.0 L1126.1 187.5 L1126.6 197.1 L1127.1 207.2 L1127.4 212.0 L1127.6 214.7 L1128.1 221.4 L1128.6 226.5 L1129.0 228.0 L1129.1 227.7 L1129.6 219.3 L1130.1 206.3 L1130.4 200.0 L1130.6 196.7 L1131.1 188.8 L1131.6 184.0 L1132.1 182.3 L1132.4 182.0 L1132.6 182.5 L1133.1 187.5 L1133.6 194.8 L1134.0 200.0 L1134.1 201.1 L1134.6 206.2 L1135.1 211.1 L1135.6 216.0 L1136.0 220.0 L1136.1 221.1 L1136.6 227.3 L1137.1 234.1 L1137.6 240.5 L1138.1 245.2 L1138.6 247.0 L1139.1 244.4 L1139.6 237.9 L1140.1 229.2 L1140.6 220.0 L1141.1 207.9 L1141.6 193.8 L1142.0 186.0 L1142.1 184.8 L1142.6 179.0 L1143.1 175.1 L1143.4 174.4 L1143.6 174.5 L1144.1 175.1 L1144.6 176.0 L1145.1 178.2 L1145.6 181.0 L1146.0 182.0 L1146.1 181.9 L1146.6 180.2 L1147.1 177.4 L1147.4 176.0 L1147.6 175.2 L1148.1 173.3 L1148.6 172.4 L1149.1 174.7 L1149.6 179.9 L1150.0 184.0 L1150.1 184.9 L1150.6 189.8 L1151.1 195.1 L1151.6 200.2 L1152.0 204.0 L1152.1 204.9 L1152.6 209.3 L1153.1 213.5 L1153.6 217.3 L1154.0 220.0 L1154.1 220.6 L1154.6 223.8 L1155.1 226.7 L1155.6 228.9 L1156.0 230.0 L1156.1 230.2 L1156.6 230.9 L1157.1 231.5 L1157.6 231.9 L1158.0 232.0 L1158.1 232.0 L1158.6 231.8 L1159.1 231.3 L1159.6 230.6 L1160.0 230.0 L1160.1 229.8 L1160.6 227.6 L1161.1 224.5 L1161.6 221.5 L1162.0 220.0 L1162.1 219.8 L1162.6 219.0 L1163.1 218.4 L1163.6 218.0 L1164.1 217.5 L1164.6 216.8 L1165.0 216.0 L1165.1 215.7 L1165.6 212.7 L1166.1 208.4 L1166.6 204.2 L1167.0 202.0 L1167.1 201.6 L1167.6 199.9 L1168.1 198.5 L1168.6 198.0 L1169.1 198.3 L1169.6 199.1 L1170.0 200.0 L1170.1 200.3 L1170.6 203.1 L1171.1 207.3 L1171.6 211.5 L1172.0 214.0 L1172.1 214.5 L1172.6 216.9 L1173.1 218.6 L1173.4 219.0 L1173.6 218.5 L1174.1 213.8 L1174.6 206.2 L1175.0 200.0 L1175.1 198.4 L1175.6 187.8 L1176.1 176.6 L1176.6 170.0 L1177.1 167.7 L1177.6 166.2 L1178.0 165.6 L1178.1 165.5 L1178.6 165.3 L1179.1 165.1 L1179.6 165.0 L1180.0 165.0 L1180.1 165.1 L1180.6 166.7 L1181.1 169.8 L1181.6 173.4 L1182.0 176.0 L1182.1 176.6 L1182.6 179.8 L1183.1 182.8 L1183.4 184.0 L1183.6 184.5 L1184.1 185.3 L1184.6 186.0 L1185.0 187.0 L1185.1 187.5 L1185.6 193.1 L1186.0 200.0 L1186.1 202.1 L1186.6 217.0 L1187.0 230.0 L1187.1 233.0 L1187.6 250.8 L1188.1 265.5 L1188.4 268.6 L1188.6 268.3 L1189.1 266.0 L1189.6 262.5 L1190.0 260.0 L1190.1 259.5 L1190.6 257.3 L1191.1 255.3 L1191.6 253.1 L1192.1 250.2 L1192.4 248.0 L1192.6 245.7 L1193.1 236.3 L1193.6 225.7 L1194.0 220.0 L1194.1 219.2 L1194.6 215.2 L1195.1 212.2 L1195.6 211.0 L1196.1 213.2 L1196.6 218.6 L1197.0 224.0 L1197.1 225.5 L1197.6 237.3 L1198.1 251.9 L1198.4 260.0 L1198.6 264.8 L1199.1 276.2 L1199.6 288.0 L1200.1 302.8 L1200.6 318.0 L1201.0 326.0 L1201.1 327.2 L1201.6 332.6 L1202.0 334.4 L1202.1 334.1 L1202.6 326.8 L1203.0 320.0 L1203.1 318.8 L1203.6 312.9 L1204.0 310.0 L1204.1 309.6 L1204.6 308.1 L1205.0 307.6 L1205.1 307.7 L1205.6 310.3 L1206.1 314.2 L1206.4 316.0 L1206.6 316.9 L1207.1 319.0 L1207.6 320.0 L1208.1 318.9 L1208.6 317.0 L1209.0 316.0 L1209.1 315.9 L1209.6 315.5 L1210.1 315.2 L1210.6 315.0 L1211.0 315.0 L1211.1 315.0 L1211.6 315.1 L1212.1 315.3 L1212.6 315.6 L1213.0 316.0 L1213.1 316.4 L1213.6 323.3 L1214.0 330.0 L1214.1 331.3 L1214.6 337.0 L1215.1 342.7 L1215.6 350.0 L1216.1 364.8 L1216.6 383.9 L1217.1 395.6 L1217.2 396.0 L1217.6 393.4 L1218.1 384.2 L1218.6 371.2 L1219.0 360.0 L1219.1 356.9 L1219.6 335.3 L1220.0 320.0 L1220.1 317.4 L1220.6 305.7 L1221.0 300.0 L1221.1 299.2 L1221.6 296.1 L1222.1 293.9 L1222.6 292.0 L1223.1 289.7 L1223.6 287.7 L1224.0 287.0 L1224.1 287.1 L1224.6 288.8 L1225.1 291.4 L1225.6 293.0 L1226.1 293.3 L1226.6 293.5 L1227.1 293.7 L1227.4 294.0 L1227.6 294.4 L1228.1 296.8 L1228.6 300.0 L1229.1 304.9 L1229.6 310.6 L1230.0 313.0 L1230.1 313.2 L1230.6 313.7 L1231.1 314.0 L1231.6 314.4 L1232.0 315.0 L1232.1 315.4 L1232.6 322.5 L1233.0 330.0 L1233.1 331.7 L1233.6 341.1 L1234.0 350.0 L1234.1 352.6 L1234.6 370.8 L1235.1 393.3 L1235.6 414.3 L1236.1 428.3 L1236.4 431.0 L1236.6 427.1 L1237.1 394.8 L1237.6 360.0 L1238.1 339.6 L1238.6 320.0 L1239.1 293.6 L1239.4 280.0 L1239.6 272.9 L1240.1 257.4 L1240.4 254.0 L1240.6 254.2 L1241.1 255.9 L1241.6 257.0 L1242.1 246.8 L1242.6 230.0 L1243.1 215.5 L1243.6 204.0 L1244.1 196.9 L1244.6 193.6 L1245.1 200.5 L1245.6 215.0 L1246.1 239.0 L1246.3 250.0 L1246.6 267.1 L1247.1 295.4 L1247.2 300.0 L1247.6 316.1 L1247.9 325.0 L1248.1 329.7 L1248.6 337.0 L1249.1 330.4 L1249.5 320.0 L1249.6 316.9 L1250.1 294.0 L1250.4 280.0 L1250.6 272.0 L1251.1 253.4 L1251.2 250.0 L1251.6 235.9 L1252.0 226.0 L1252.1 224.8 L1252.6 220.0 L1253.1 216.8 L1253.6 214.2 L1254.0 212.0 L1254.1 211.4 L1254.6 209.0 L1255.1 206.8 L1255.6 204.4 L1256.0 202.0 L1256.1 201.3 L1256.6 196.2 L1257.1 190.4 L1257.6 186.0 L1258.1 183.0 L1258.6 180.4 L1259.1 178.7 L1259.4 178.4 L1259.6 178.7 L1260.1 181.4 L1260.6 185.3 L1261.1 188.4 L1261.4 189.0 L1261.6 188.8 L1262.1 186.4 L1262.6 182.8 L1263.0 180.0 L1263.1 179.3 L1263.6 175.1 L1264.1 170.3 L1264.6 165.8 L1265.1 162.9 L1265.4 162.4 L1265.6 162.7 L1266.1 165.4 L1266.6 170.2 L1267.1 176.1 L1267.6 182.0 L1268.0 186.0 L1268.1 186.9 L1268.6 192.0 L1269.1 196.4 L1269.4 198.0 L1269.6 198.6 L1270.1 199.6 L1270.6 200.4 L1271.0 201.0 L1271.1 201.2 L1271.6 201.9 L1272.1 202.4 L1272.6 203.0 L1273.1 203.8 L1273.6 205.0 L1274.1 207.7 L1274.6 212.1 L1275.0 216.0 L1275.1 217.0 L1275.6 222.8 L1276.1 229.4 L1276.6 236.0 L1277.1 242.4 L1277.6 248.8 L1278.0 254.0 L1278.1 255.3 L1278.6 261.1 L1279.1 266.8 L1279.6 273.4 L1280.0 280.0 L1280.1 282.0 L1280.6 296.0 L1281.1 312.0 L1281.4 320.0 L1281.6 324.2 L1282.1 333.0 L1282.6 341.5 L1283.0 350.0 L1283.1 352.7 L1283.6 372.2 L1284.1 397.5 L1284.6 422.8 L1285.1 442.2 L1285.6 450.0 L1286.1 436.7 L1286.6 406.6 L1287.1 374.3 L1287.4 360.0 L1287.6 353.5 L1288.1 340.2 L1288.4 330.0 L1288.6 320.0 L1289.1 286.6 L1289.2 280.0 L1289.6 248.5 L1290.0 228.0 L1290.1 227.2 L1290.6 224.3 L1291.1 222.8 L1291.4 222.0 L1291.6 221.4 L1292.1 220.2 L1292.6 219.6 L1293.1 222.8 L1293.6 229.9 L1294.0 236.0 L1294.1 237.4 L1294.6 244.0 L1295.1 252.7 L1295.4 260.0 L1295.6 269.9 L1295.8 280.0 L1296.1 288.3 L1296.6 298.6 L1297.0 304.0 L1297.1 305.1 L1297.6 310.0 L1298.1 314.2 L1298.6 316.9 L1299.0 317.6 L1299.1 317.6 L1299.6 316.4 L1300.1 314.2 L1300.6 311.7 L1301.0 310.0 L1301.1 309.6 L1301.6 308.1 L1302.1 306.6 L1302.6 304.8 L1303.0 303.0 L1303.1 302.4 L1303.6 298.8 L1304.1 293.7 L1304.4 290.0 L1304.6 287.0 L1305.1 277.1 L1305.4 270.0 L1305.6 264.5 L1306.1 248.7 L1306.2 246.0 L1306.6 236.0 L1307.1 225.1 L1307.4 220.0 L1307.6 217.2 L1308.1 210.9 L1308.6 206.0 L1309.0 203.0 L1309.1 202.4 L1309.6 199.7 L1310.1 197.6 L1310.6 196.0 L1311.1 194.5 L1311.6 193.4 L1312.0 193.0 L1312.1 193.1 L1312.6 195.8 L1313.1 200.8 L1313.4 204.0 L1313.6 206.2 L1314.1 213.1 L1314.6 221.8 L1315.0 230.0 L1315.1 232.4 L1315.6 249.0 L1316.0 262.0 L1316.1 264.7 L1316.6 277.5 L1317.0 285.0 L1317.1 286.4 L1317.6 292.8 L1318.0 295.0 L1318.1 294.8 L1318.6 288.2 L1319.0 280.0 L1319.1 277.6 L1319.6 262.0 L1320.1 248.2 L1320.4 240.0 L1320.6 234.0 L1321.1 218.5 L1321.4 212.0 L1321.6 209.1 L1322.1 203.2 L1322.4 202.0 L1322.6 202.0 L1323.1 202.4 L1323.6 202.8 L1324.0 203.0 L1324.1 202.9 L1324.6 199.2 L1325.1 193.2 L1325.4 190.0 L1325.6 188.0 L1326.1 182.4 L1326.6 179.6 L1327.1 185.9 L1327.6 200.0 L1328.1 230.3 L1328.5 260.0 L1328.6 266.4 L1329.1 298.1 L1329.5 320.0 L1329.6 324.6 L1330.1 345.0 L1330.6 362.9 L1330.8 370.0 L1331.1 382.5 L1331.6 403.6 L1332.0 411.0 L1332.1 410.5 L1332.6 396.6 L1333.1 374.2 L1333.2 370.0 L1333.6 351.1 L1334.1 324.9 L1334.2 320.0 L1334.6 300.1 L1335.1 278.2 L1335.2 275.0 L1335.6 264.8 L1336.1 255.4 L1336.2 254.0 L1336.6 248.9 L1337.1 243.8 L1337.6 240.0 L1338.1 236.8 L1338.6 234.4 L1339.0 233.6 L1339.1 233.7 L1339.6 235.9 L1340.1 239.9 L1340.6 244.0 L1341.1 248.2 L1341.6 252.5 L1342.0 255.0 L1342.1 255.4 L1342.6 257.4 L1343.0 258.0 L1343.1 257.9 L1343.6 254.7 L1344.1 249.2 L1344.4 246.0 L1344.6 243.9 L1345.1 237.7 L1345.6 231.7 L1346.0 228.0 L1346.1 227.3 L1346.6 224.3 L1347.1 221.8 L1347.6 219.7 L1348.0 218.0 L1348.1 217.6 L1348.6 215.1 L1349.1 212.9 L1349.6 212.0 L1350.1 213.7 L1350.6 217.0 L1351.0 219.0 L1351.1 219.3 L1351.6 220.8 L1352.1 221.8 L1352.4 222.0 L1352.6 221.6 L1353.1 218.5 L1353.6 214.3 L1354.0 212.0 L1354.1 211.7 L1354.6 210.2 L1355.1 209.2 L1355.4 209.0 L1355.6 209.0 L1356.1 209.2 L1356.6 209.6 L1357.1 209.9 L1357.6 210.0 L1358.1 206.6 L1358.6 200.0 L1359.1 192.5 L1359.6 183.4 L1360.0 176.0 L1360.1 174.2 L1360.6 163.6 L1361.1 151.5 L1361.6 139.4 L1362.1 128.7 L1362.6 120.8 L1363.1 117.1 L1363.2 117.0 L1363.6 118.8 L1364.1 125.2 L1364.6 135.1 L1365.1 147.1 L1365.6 160.0 L1366.0 170.0 L1366.1 172.5 L1366.6 187.4 L1367.0 200.0 L1367.1 203.0 L1367.6 218.3 L1368.0 230.0 L1368.1 232.7 L1368.6 245.5 L1369.0 256.0 L1369.1 258.9 L1369.6 274.9 L1370.0 286.0 L1370.1 288.2 L1370.6 298.7 L1371.1 306.9 L1371.4 310.0 L1371.6 311.4 L1372.1 314.7 L1372.6 317.2 L1373.1 318.7 L1373.4 319.0 L1373.6 318.6 L1374.1 315.0 L1374.6 309.1 L1375.0 304.0 L1375.1 302.7 L1375.6 294.9 L1376.1 285.6 L1376.4 280.0 L1376.6 275.9 L1377.1 264.3 L1377.6 256.0 L1378.1 251.9 L1378.6 250.0 L1379.1 251.8 L1379.6 257.0 L1379.8 260.0 L1380.1 278.3 L1380.4 300.0 L1380.6 307.1 L1381.1 321.0 L1381.6 330.0 L1382.1 336.9 L1382.6 342.1 L1383.0 343.6 L1383.1 343.4 L1383.6 336.9 L1384.1 326.1 L1384.4 320.0 L1384.6 316.3 L1385.1 306.4 L1385.6 296.7 L1386.0 290.0 L1386.1 288.5 L1386.6 281.8 L1387.1 275.9 L1387.6 270.3 L1388.0 266.0 L1388.1 264.9 L1388.6 260.1 L1389.0 256.0 L1389.1 254.8 L1389.6 248.2 L1390.0 244.0 L1390.1 243.3 L1390.6 240.1 L1391.0 239.0 L1391.1 239.1 L1391.6 241.1 L1392.1 245.9 L1392.4 250.0 L1392.6 258.6 L1393.1 296.1 L1393.2 300.0 L1393.6 309.2 L1394.1 316.6 L1394.4 318.0 L1394.6 317.0 L1395.1 307.1 L1395.6 290.0 L1396.1 245.2 L1396.2 240.0 L1396.6 230.3 L1397.1 222.9 L1397.4 221.0 L1397.6 220.3 L1398.1 219.2 L1398.4 219.0 L1398.6 219.4 L1399.1 223.3 L1399.6 229.0 L1400.1 233.5 L1400.4 234.4 L1400.6 233.7 L1401.1 227.9 L1401.6 220.0 L1402.1 209.8 L1402.6 202.0 L1403.1 199.8 L1403.6 198.4 L1404.0 198.0 L1404.1 198.1 L1404.6 200.3 L1405.1 204.7 L1405.6 210.0 L1406.1 218.0 L1406.6 228.0 L1407.0 234.0 L1407.1 235.0 L1407.6 239.9 L1408.1 243.3 L1408.4 244.0 L1408.6 242.8 L1409.1 232.8 L1409.6 220.0 L1410.1 206.2 L1410.6 196.0 L1411.1 193.0 L1411.6 191.8 L1412.1 195.2 L1412.6 203.1 L1413.0 210.0 L1413.1 211.7 L1413.6 222.8 L1414.1 234.5 L1414.4 240.0 L1414.6 242.5 L1415.1 246.8 L1415.6 252.3 L1415.8 256.0 L1416.1 274.5 L1416.2 280.0 L1416.6 293.0 L1417.1 304.6 L1417.4 310.0 L1417.6 313.2 L1418.1 320.0 L1418.6 325.7 L1419.0 330.0 L1419.1 331.1 L1419.6 337.1 L1420.1 342.9 L1420.6 347.2 L1421.0 348.4 L1421.1 348.3 L1421.6 344.8 L1422.1 339.1 L1422.4 336.0 L1422.6 334.0 L1423.1 328.4 L1423.6 325.6 L1424.1 327.6 L1424.6 332.0 L1425.0 336.0 L1425.1 337.0 L1425.6 342.5 L1426.1 349.3 L1426.4 354.0 L1426.6 357.9 L1427.1 371.8 L1427.6 386.9 L1428.1 397.8 L1428.4 400.0 L1428.6 398.3 L1429.1 383.4 L1429.6 365.0 L1429.8 360.0 L1430.1 354.5 L1430.6 346.7 L1431.0 342.4"/>
<path stroke="#f00" d="M134.0 227.4 L134.5 227.2 L135.0 226.9 L135.5 226.5 L136.0 226.1 L136.5 225.5 L137.0 225.0 L137.5 224.2 L138.0 223.1 L138.5 221.9 L139.0 220.9 L139.5 220.4 L139.6 220.4 L140.0 220.7 L140.5 221.6 L141.0 223.0 L141.5 224.4 L142.0 225.5 L142.4 226.0 L142.5 226.1 L143.0 226.3 L143.5 226.5 L144.0 226.6 L144.5 226.8 L145.0 227.0 L145.5 227.4 L146.0 228.1 L146.5 228.8 L147.0 229.5 L147.5 230.1 L148.0 230.4 L148.5 230.5 L149.0 230.7 L149.5 230.8 L150.0 230.9 L150.5 230.9 L151.0 231.0 L151.5 231.0 L151.6 231.0 L152.0 230.8 L152.5 230.0 L153.0 228.8 L153.5 227.4 L154.0 226.0 L154.5 224.2 L155.0 221.9 L155.5 219.5 L156.0 217.3 L156.5 215.8 L156.6 215.6 L157.0 215.0 L157.5 214.6 L158.0 214.2 L158.5 213.7 L159.0 213.0 L159.5 211.4 L160.0 208.8 L160.5 205.8 L161.0 202.7 L161.5 200.4 L161.6 200.0 L162.0 198.6 L162.5 196.9 L163.0 195.5 L163.5 194.4 L164.0 194.0 L164.5 194.2 L165.0 194.7 L165.5 195.5 L166.0 196.3 L166.5 197.2 L167.0 198.0 L167.5 198.7 L168.0 199.4 L168.5 200.1 L169.0 201.0 L169.5 202.1 L170.0 203.5 L170.5 205.1 L171.0 206.8 L171.5 208.4 L172.0 210.0 L172.5 211.6 L173.0 213.3 L173.5 215.0 L174.0 216.5 L174.5 217.9 L175.0 219.0 L175.5 219.9 L176.0 220.7 L176.5 221.4 L177.0 221.6 L177.5 221.4 L178.0 220.8 L178.5 220.0 L179.0 219.2 L179.5 218.3 L180.0 217.7 L180.5 217.4 L180.6 217.4 L181.0 217.5 L181.5 217.9 L182.0 218.5 L182.5 219.2 L183.0 220.0 L183.5 221.1 L184.0 222.5 L184.5 224.1 L185.0 225.3 L185.5 226.0 L185.6 226.0 L186.0 225.6 L186.5 224.3 L187.0 222.4 L187.5 220.4 L188.0 218.8 L188.5 218.0 L188.6 218.0 L189.0 218.3 L189.5 219.5 L190.0 221.2 L190.5 223.2 L191.0 225.0 L191.5 227.0 L192.0 229.4 L192.5 231.5 L193.0 233.0 L193.5 233.9 L194.0 234.6 L194.5 235.0 L194.6 235.0 L195.0 234.6 L195.5 233.2 L196.0 231.0 L196.5 228.5 L196.6 228.0 L197.0 225.0 L197.5 219.6 L198.0 213.6 L198.5 208.7 L198.6 208.0 L199.0 205.4 L199.5 202.4 L200.0 200.0 L200.5 198.2 L200.6 198.0 L201.0 197.2 L201.5 196.3 L202.0 196.0 L202.5 196.6 L203.0 198.0 L203.5 199.9 L204.0 202.0 L204.5 204.4 L205.0 207.5 L205.5 211.0 L206.0 214.4 L206.5 217.5 L206.6 218.0 L207.0 220.2 L207.5 223.0 L208.0 225.6 L208.5 227.7 L209.0 229.0 L209.5 229.7 L210.0 230.3 L210.5 230.7 L211.0 231.1 L211.5 231.5 L212.0 232.0 L212.5 232.6 L213.0 233.1 L213.5 233.7 L214.0 234.3 L214.5 235.1 L215.0 236.0 L215.5 237.5 L216.0 239.6 L216.5 242.1 L217.0 244.5 L217.5 246.6 L218.0 248.0 L218.5 248.9 L219.0 249.6 L219.5 250.2 L220.0 250.4 L220.5 250.2 L221.0 249.7 L221.5 248.9 L222.0 247.9 L222.4 247.0 L222.5 246.7 L223.0 244.5 L223.5 241.2 L224.0 237.6 L224.5 234.3 L225.0 232.0 L225.5 230.5 L226.0 229.1 L226.5 227.9 L227.0 227.2 L227.4 227.0 L227.5 227.0 L228.0 227.1 L228.5 227.3 L229.0 227.5 L229.5 227.8 L230.0 228.0 L230.5 228.2 L231.0 228.3 L231.5 228.4 L232.0 228.6 L232.5 228.8 L233.0 229.0 L233.5 229.6 L234.0 230.8 L234.5 232.2 L235.0 233.6 L235.5 234.6 L236.0 235.0 L236.5 234.6 L237.0 233.6 L237.5 232.3 L238.0 230.8 L238.5 229.4 L239.0 228.4 L239.5 227.8 L240.0 227.3 L240.5 226.7 L241.0 226.0 L241.5 224.5 L242.0 222.2 L242.5 219.7 L243.0 217.9 L243.4 217.4 L243.5 217.5 L244.0 219.2 L244.5 222.5 L245.0 226.0 L245.5 230.4 L246.0 236.1 L246.5 241.7 L247.0 245.8 L247.4 247.0 L247.5 247.0 L248.0 246.8 L248.5 246.5 L249.0 246.1 L249.5 245.7 L250.0 245.6 L250.5 245.8 L251.0 246.5 L251.5 247.5 L252.0 248.6 L252.5 249.8 L253.0 251.0 L253.5 252.2 L254.0 253.7 L254.5 255.2 L255.0 256.8 L255.5 258.4 L256.0 260.0 L256.5 261.5 L257.0 263.1 L257.5 264.6 L258.0 266.1 L258.5 267.6 L259.0 269.0 L259.5 270.6 L260.0 272.1 L260.5 273.0 L260.6 273.0 L261.0 272.7 L261.5 271.6 L262.0 269.8 L262.5 267.6 L263.0 265.1 L263.5 262.5 L264.0 260.0 L264.5 257.3 L265.0 254.1 L265.5 250.7 L266.0 247.4 L266.4 245.0 L266.5 244.4 L267.0 241.4 L267.5 238.1 L268.0 235.0 L268.5 232.1 L269.0 229.9 L269.5 228.6 L269.8 228.4 L270.0 228.6 L270.5 230.0 L271.0 232.1 L271.5 234.1 L272.0 235.0 L272.5 234.3 L273.0 232.6 L273.5 230.2 L274.0 227.4 L274.5 224.5 L275.0 222.0 L275.5 219.5 L276.0 216.6 L276.5 213.8 L277.0 211.1 L277.5 209.1 L278.0 208.0 L278.5 207.5 L279.0 207.2 L279.5 207.0 L280.0 206.8 L280.5 206.5 L281.0 206.0 L281.5 204.5 L282.0 201.6 L282.5 197.9 L283.0 193.7 L283.5 189.5 L284.0 186.0 L284.5 182.5 L285.0 178.7 L285.5 175.1 L286.0 172.4 L286.5 171.0 L286.6 171.0 L287.0 173.1 L287.5 180.4 L288.0 190.6 L288.5 201.2 L289.0 210.0 L289.5 217.7 L290.0 225.9 L290.5 233.2 L291.0 238.2 L291.4 239.6 L291.5 239.5 L292.0 235.5 L292.5 227.8 L293.0 218.8 L293.5 211.2 L293.6 210.0 L294.0 205.4 L294.5 199.4 L295.0 193.9 L295.5 189.9 L296.0 188.4 L296.5 188.7 L297.0 189.6 L297.5 190.9 L298.0 192.3 L298.5 193.7 L299.0 195.0 L299.5 196.3 L300.0 197.7 L300.5 199.1 L301.0 200.4 L301.5 201.3 L302.0 201.6 L302.5 201.2 L303.0 200.3 L303.5 198.9 L304.0 197.3 L304.5 195.7 L305.0 194.3 L305.5 193.4 L306.0 193.0 L306.5 193.5 L307.0 194.7 L307.5 196.4 L308.0 198.0 L308.5 199.4 L309.0 200.0 L309.5 200.2 L310.0 200.3 L310.5 200.4 L311.0 200.5 L311.5 200.6 L312.0 200.6 L312.5 200.5 L313.0 200.3 L313.5 200.0 L314.0 199.7 L314.5 199.5 L315.0 199.4 L315.5 199.6 L316.0 200.1 L316.5 200.8 L317.0 201.6 L317.5 202.4 L318.0 203.0 L318.5 203.5 L319.0 203.9 L319.5 204.3 L320.0 204.8 L320.5 205.3 L321.0 206.0 L321.5 207.0 L322.0 208.5 L322.5 210.2 L323.0 211.9 L323.5 213.6 L324.0 215.0 L324.5 216.2 L325.0 217.3 L325.5 218.4 L326.0 219.4 L326.5 220.3 L327.0 221.0 L327.5 221.5 L328.0 221.9 L328.5 222.4 L329.0 223.0 L329.5 224.4 L330.0 226.8 L330.5 229.6 L331.0 232.2 L331.5 234.2 L332.0 235.0 L332.5 234.2 L333.0 232.0 L333.5 228.9 L334.0 225.6 L334.5 222.4 L335.0 220.0 L335.5 217.9 L336.0 215.8 L336.5 214.0 L337.0 212.7 L337.4 212.4 L337.5 212.4 L338.0 213.3 L338.5 215.1 L339.0 217.4 L339.5 219.9 L340.0 222.0 L340.5 224.1 L341.0 226.4 L341.5 228.9 L342.0 231.4 L342.5 233.6 L343.0 235.4 L343.5 236.6 L344.0 237.0 L344.5 236.1 L345.0 233.8 L345.5 230.7 L346.0 227.3 L346.5 224.3 L347.0 222.2 L347.4 221.6 L347.5 221.6 L348.0 221.9 L348.5 222.5 L349.0 223.2 L349.5 223.8 L350.0 224.0 L350.5 223.8 L351.0 223.3 L351.5 222.4 L352.0 221.4 L352.5 220.2 L353.0 219.0 L353.5 217.3 L354.0 214.9 L354.5 212.1 L355.0 209.2 L355.5 206.4 L356.0 204.0 L356.5 201.8 L357.0 199.4 L357.5 197.1 L358.0 195.0 L358.5 193.3 L359.0 192.3 L359.4 192.0 L359.5 192.1 L360.0 193.6 L360.5 196.5 L361.0 199.8 L361.5 202.5 L362.0 203.6 L362.5 203.2 L363.0 202.2 L363.5 200.9 L364.0 199.4 L364.5 198.1 L365.0 197.3 L365.4 197.0 L365.5 197.0 L366.0 197.6 L366.5 198.9 L367.0 200.6 L367.5 202.4 L368.0 204.0 L368.5 205.1 L369.0 205.6 L369.5 204.9 L370.0 203.3 L370.5 201.0 L371.0 198.6 L371.5 196.5 L372.0 195.0 L372.5 194.0 L373.0 193.1 L373.5 192.3 L374.0 191.6 L374.5 191.2 L375.0 191.0 L375.5 191.1 L376.0 191.5 L376.5 192.1 L377.0 192.7 L377.5 193.3 L378.0 193.9 L378.5 194.3 L379.0 194.4 L379.5 194.3 L380.0 193.9 L380.5 193.3 L381.0 192.7 L381.5 192.1 L382.0 191.6 L382.5 191.1 L383.0 190.5 L383.5 189.9 L384.0 189.4 L384.5 188.9 L385.0 188.6 L385.5 188.4 L385.6 188.4 L386.0 188.5 L386.5 188.8 L387.0 189.4 L387.5 190.0 L388.0 190.7 L388.5 191.4 L389.0 192.0 L389.5 192.5 L390.0 192.9 L390.5 193.3 L391.0 193.7 L391.5 194.2 L392.0 194.7 L392.5 195.3 L393.0 196.0 L393.5 197.2 L394.0 199.0 L394.5 201.1 L395.0 203.0 L395.5 204.4 L396.0 205.0 L396.5 204.8 L397.0 204.3 L397.5 203.6 L398.0 202.7 L398.5 201.9 L399.0 201.0 L399.5 200.1 L400.0 199.1 L400.5 198.1 L401.0 197.0 L401.5 196.0 L402.0 195.0 L402.5 194.1 L403.0 193.1 L403.5 192.2 L404.0 191.4 L404.5 190.6 L405.0 190.0 L405.5 189.5 L406.0 188.9 L406.5 188.5 L407.0 188.2 L407.5 188.0 L407.6 188.0 L408.0 188.1 L408.5 188.4 L409.0 188.8 L409.5 189.2 L410.0 189.6 L410.5 189.8 L411.0 190.0 L411.5 190.2 L412.0 190.4 L412.5 190.6 L413.0 191.0 L413.5 192.7 L414.0 196.0 L414.5 199.6 L415.0 202.0 L415.5 203.3 L416.0 204.5 L416.5 205.3 L417.0 205.6 L417.5 205.6 L418.0 205.5 L418.5 205.4 L419.0 205.4 L419.5 205.8 L420.0 206.7 L420.5 207.6 L421.0 208.0 L421.5 207.8 L422.0 207.2 L422.5 206.4 L423.0 205.5 L423.5 204.8 L424.0 204.4 L424.5 204.2 L425.0 204.0 L425.5 203.9 L426.0 203.8 L426.5 203.7 L427.0 203.6 L427.5 203.5 L428.0 203.3 L428.5 203.2 L429.0 203.1 L429.5 203.0 L430.0 203.0 L430.5 203.1 L431.0 203.5 L431.5 203.9 L432.0 204.4 L432.5 205.0 L433.0 205.4 L433.5 205.8 L434.0 206.3 L434.5 206.8 L435.0 207.2 L435.5 207.5 L436.0 207.6 L436.5 207.5 L437.0 207.2 L437.5 206.9 L438.0 206.5 L438.5 206.2 L439.0 206.0 L439.5 205.9 L440.0 205.8 L440.5 205.7 L441.0 205.7 L441.5 205.6 L442.0 205.6 L442.5 205.6 L443.0 205.8 L443.5 206.0 L444.0 206.3 L444.5 206.6 L445.0 207.0 L445.5 207.8 L446.0 209.3 L446.5 210.9 L447.0 212.3 L447.5 213.0 L447.6 213.0 L448.0 212.9 L448.5 212.7 L449.0 212.5 L449.5 212.2 L450.0 212.0 L450.5 211.9 L451.0 211.8 L451.5 211.6 L452.0 211.5 L452.4 211.4 L452.5 211.4 L453.0 211.1 L453.5 210.7 L454.0 210.4 L454.5 210.1 L455.0 210.0 L455.5 210.2 L456.0 210.7 L456.5 211.3 L457.0 212.0 L457.5 213.0 L458.0 214.3 L458.5 215.7 L459.0 216.8 L459.5 217.4 L459.6 217.4 L460.0 217.3 L460.5 217.0 L461.0 216.5 L461.5 215.9 L462.0 215.3 L462.5 214.6 L463.0 214.0 L463.5 213.4 L464.0 212.6 L464.5 211.9 L465.0 211.1 L465.5 210.5 L466.0 210.0 L466.5 209.6 L467.0 209.3 L467.5 209.0 L468.0 208.7 L468.5 208.5 L469.0 208.4 L469.5 208.3 L470.0 208.2 L470.5 208.1 L471.0 208.1 L471.5 208.0 L472.0 208.0 L472.5 208.1 L473.0 208.4 L473.5 208.7 L474.0 209.2 L474.5 209.6 L475.0 210.0 L475.5 210.4 L476.0 210.8 L476.5 211.2 L477.0 211.6 L477.5 212.0 L478.0 212.4 L478.5 212.9 L479.0 213.4 L479.5 214.0 L480.0 214.5 L480.5 214.9 L481.0 215.0 L481.5 215.0 L482.0 215.0 L482.5 215.0 L483.0 215.0 L483.5 215.0 L484.0 215.0 L484.5 214.9 L485.0 214.7 L485.5 214.5 L486.0 214.3 L486.5 214.1 L487.0 214.0 L487.5 214.1 L488.0 214.4 L488.5 214.9 L489.0 215.4 L489.5 215.9 L490.0 216.4 L490.5 216.8 L491.0 217.2 L491.5 217.7 L492.0 218.1 L492.5 218.5 L493.0 219.0 L493.5 219.5 L494.0 220.0 L494.5 220.6 L495.0 221.1 L495.5 221.6 L496.0 222.0 L496.5 222.3 L497.0 222.6 L497.5 222.9 L498.0 223.2 L498.5 223.3 L499.0 223.4 L499.5 223.4 L500.0 223.3 L500.5 223.3 L501.0 223.2 L501.5 223.1 L502.0 223.0 L502.5 222.9 L503.0 222.8 L503.5 222.6 L504.0 222.5 L504.5 222.4 L505.0 222.4 L505.5 222.7 L506.0 223.6 L506.5 224.8 L507.0 226.0 L507.5 227.5 L508.0 229.4 L508.5 231.4 L509.0 233.1 L509.5 234.3 L509.6 234.4 L510.0 234.8 L510.5 235.3 L511.0 235.7 L511.5 235.9 L512.0 236.0 L512.5 235.9 L513.0 235.7 L513.5 235.5 L514.0 235.3 L514.5 235.1 L515.0 235.0 L515.5 235.1 L516.0 235.2 L516.5 235.4 L517.0 235.6 L517.5 235.8 L518.0 236.0 L518.5 236.1 L519.0 236.3 L519.5 236.4 L520.0 236.5 L520.5 236.6 L521.0 236.6 L521.5 236.6 L522.0 236.4 L522.5 236.3 L523.0 236.2 L523.5 236.0 L524.0 236.0 L524.5 236.0 L525.0 236.1 L525.5 236.2 L526.0 236.3 L526.5 236.4 L527.0 236.4 L527.5 236.4 L528.0 236.3 L528.5 236.3 L529.0 236.2 L529.5 236.1 L530.0 236.0 L530.5 235.9 L531.0 235.7 L531.5 235.6 L532.0 235.4 L532.5 235.2 L533.0 235.0 L533.5 234.8 L534.0 234.5 L534.5 234.2 L535.0 233.9 L535.5 233.7 L536.0 233.6 L536.5 233.6 L537.0 233.7 L537.5 233.7 L538.0 233.8 L538.5 233.9 L539.0 234.0 L539.5 234.1 L540.0 234.3 L540.5 234.6 L541.0 234.8 L541.5 234.9 L542.0 235.0 L542.5 234.6 L543.0 233.5 L543.5 231.9 L544.0 230.0 L544.5 226.1 L545.0 220.8 L545.4 218.0 L545.5 217.6 L546.0 215.9 L546.5 215.0 L546.6 215.0 L547.0 215.9 L547.5 218.7 L548.0 222.0 L548.5 225.8 L549.0 230.3 L549.5 234.7 L550.0 238.0 L550.5 240.3 L551.0 242.3 L551.5 243.8 L552.0 245.0 L552.5 245.9 L553.0 246.6 L553.5 247.3 L554.0 247.8 L554.5 248.3 L555.0 248.6 L555.5 248.9 L556.0 249.1 L556.5 249.3 L557.0 249.5 L557.5 249.6 L558.0 249.6 L558.5 249.5 L559.0 249.4 L559.5 249.2 L560.0 249.0 L560.5 248.6 L561.0 247.9 L561.5 247.3 L562.0 247.0 L562.5 247.3 L563.0 248.1 L563.5 249.1 L564.0 250.0 L564.5 250.9 L565.0 252.0 L565.5 253.0 L566.0 254.1 L566.5 255.1 L567.0 256.0 L567.5 256.8 L568.0 257.6 L568.5 258.3 L569.0 259.0 L569.5 259.6 L570.0 260.0 L570.5 260.3 L571.0 260.5 L571.5 260.7 L572.0 261.0 L572.5 261.5 L573.0 262.2 L573.5 263.1 L574.0 264.0 L574.5 265.1 L575.0 266.4 L575.5 267.7 L576.0 268.9 L576.5 269.9 L576.6 270.0 L577.0 270.5 L577.5 271.1 L578.0 271.5 L578.5 271.9 L579.0 272.0 L579.5 272.0 L580.0 271.9 L580.5 271.9 L581.0 271.8 L581.5 271.6 L581.6 271.6 L582.0 271.3 L582.5 270.5 L583.0 269.4 L583.5 268.2 L583.6 268.0 L584.0 267.0 L584.5 265.6 L585.0 264.2 L585.5 262.9 L586.0 262.0 L586.5 261.4 L587.0 260.9 L587.5 260.5 L588.0 260.4 L588.5 260.6 L589.0 261.0 L589.5 261.5 L590.0 262.0 L590.5 262.5 L591.0 263.2 L591.5 263.9 L592.0 264.6 L592.5 265.3 L593.0 266.0 L593.5 266.8 L594.0 267.6 L594.5 268.4 L595.0 269.1 L595.5 269.6 L595.6 269.6 L596.0 269.7 L596.5 269.9 L597.0 270.0 L597.4 270.0 L597.5 270.0 L598.0 269.1 L598.5 267.5 L599.0 265.9 L599.5 265.0 L599.6 265.0 L600.0 265.0 L600.5 265.2 L601.0 265.4 L601.5 265.7 L602.0 266.0 L602.5 266.4 L603.0 266.9 L603.5 267.5 L604.0 268.0 L604.4 268.4 L604.5 268.5 L605.0 269.0 L605.5 269.4 L606.0 269.6 L606.5 269.1 L607.0 268.2 L607.5 267.5 L607.6 267.4 L608.0 267.3 L608.5 267.1 L609.0 267.0 L609.4 267.0 L609.5 267.0 L610.0 268.0 L610.5 269.6 L611.0 271.0 L611.5 272.1 L612.0 273.2 L612.5 274.2 L613.0 275.1 L613.4 275.6 L613.5 275.7 L614.0 276.3 L614.5 276.8 L615.0 277.2 L615.5 277.5 L616.0 277.6 L616.5 277.4 L617.0 277.0 L617.5 276.4 L618.0 275.7 L618.5 275.1 L618.6 275.0 L619.0 274.6 L619.5 274.0 L620.0 273.4 L620.5 272.9 L621.0 272.4 L621.5 272.0 L622.0 271.6 L622.5 271.2 L623.0 270.9 L623.5 270.5 L623.6 270.4 L624.0 270.1 L624.5 269.7 L625.0 269.2 L625.5 268.7 L626.0 268.0 L626.5 267.0 L627.0 265.4 L627.5 263.6 L628.0 261.7 L628.5 259.7 L629.0 258.0 L629.5 256.4 L630.0 254.8 L630.5 253.2 L631.0 251.7 L631.5 250.3 L632.0 249.0 L632.5 247.9 L633.0 246.9 L633.5 246.0 L634.0 245.0 L634.5 243.9 L635.0 242.9 L635.5 241.8 L636.0 240.7 L636.5 239.4 L637.0 238.0 L637.5 236.5 L638.0 234.9 L638.5 232.8 L639.0 230.0 L639.5 223.3 L640.0 216.0 L640.5 211.5 L641.0 208.0 L641.4 207.0 L641.5 207.1 L642.0 209.5 L642.5 213.8 L643.0 218.0 L643.5 222.4 L644.0 226.6 L644.4 228.0 L644.5 228.0 L645.0 228.0 L645.5 228.0 L646.0 228.0 L646.5 228.6 L647.0 230.0 L647.5 231.6 L648.0 233.0 L648.5 234.2 L649.0 235.4 L649.5 236.0 L649.6 236.0 L650.0 235.8 L650.5 235.1 L651.0 234.1 L651.5 233.0 L652.0 232.0 L652.5 231.0 L653.0 230.0 L653.5 229.0 L654.0 228.0 L654.5 226.9 L655.0 225.6 L655.5 224.2 L656.0 223.1 L656.5 222.3 L657.0 222.0 L657.5 222.1 L658.0 222.5 L658.5 223.0 L659.0 223.7 L659.5 224.4 L660.0 225.0 L660.5 225.8 L661.0 226.7 L661.5 227.8 L662.0 228.7 L662.5 229.3 L663.0 229.6 L663.5 229.5 L664.0 229.1 L664.5 228.6 L665.0 228.1 L665.5 227.5 L666.0 227.0 L666.5 226.5 L667.0 226.0 L667.5 225.4 L668.0 224.9 L668.5 224.4 L669.0 224.0 L669.5 223.6 L670.0 223.2 L670.5 222.8 L671.0 222.5 L671.5 222.2 L672.0 222.0 L672.4 222.0 L672.5 222.1 L673.0 225.2 L673.5 230.6 L674.0 236.0 L674.5 241.4 L675.0 247.4 L675.5 252.4 L676.0 255.0 L676.5 255.6 L677.0 255.9 L677.5 256.2 L678.0 256.5 L678.4 257.0 L678.5 257.2 L679.0 259.2 L679.5 261.9 L680.0 264.0 L680.5 265.4 L681.0 266.6 L681.5 267.6 L682.0 268.0 L682.5 268.1 L683.0 268.2 L683.5 268.3 L684.0 268.3 L684.5 268.3 L685.0 268.4 L685.5 268.4 L686.0 268.4 L686.5 268.4 L687.0 268.4 L687.5 268.4 L688.0 268.4 L688.5 268.4 L689.0 268.4 L689.5 268.4 L690.0 268.4 L690.5 268.8 L691.0 269.7 L691.5 270.9 L692.0 272.0 L692.5 273.1 L693.0 274.3 L693.5 275.5 L694.0 276.6 L694.5 277.3 L695.0 277.6 L695.5 277.5 L696.0 277.1 L696.5 276.6 L697.0 276.1 L697.5 275.5 L698.0 275.0 L698.5 274.5 L699.0 274.1 L699.5 273.7 L700.0 273.2 L700.5 272.6 L701.0 272.0 L701.5 271.2 L702.0 270.3 L702.5 269.3 L703.0 268.3 L703.5 267.1 L704.0 266.0 L704.5 264.8 L705.0 263.4 L705.5 262.1 L706.0 261.0 L706.5 260.0 L707.0 259.1 L707.5 258.6 L707.6 258.6 L708.0 258.8 L708.5 259.6 L709.0 260.7 L709.5 261.8 L709.6 262.0 L710.0 262.9 L710.5 264.2 L711.0 265.6 L711.5 266.6 L712.0 267.0 L712.5 266.6 L713.0 265.5 L713.5 264.2 L714.0 263.0 L714.5 261.8 L715.0 260.5 L715.5 259.2 L716.0 258.0 L716.5 257.1 L717.0 256.6 L717.5 256.4 L718.0 256.2 L718.5 256.0 L719.0 256.0 L719.5 256.2 L720.0 256.5 L720.5 256.8 L721.0 257.0 L721.5 255.8 L722.0 253.0 L722.5 250.4 L722.6 250.0 L723.0 248.5 L723.5 246.5 L724.0 244.8 L724.5 243.5 L725.0 243.0 L725.5 243.2 L726.0 243.5 L726.5 244.1 L727.0 244.7 L727.5 245.2 L728.0 245.6 L728.5 245.9 L729.0 246.1 L729.5 246.3 L730.0 246.5 L730.5 246.7 L731.0 247.0 L731.5 247.4 L732.0 248.0 L732.5 248.5 L733.0 249.0 L733.5 249.4 L734.0 249.7 L734.5 250.0 L735.0 250.3 L735.5 250.6 L736.0 251.0 L736.5 251.6 L737.0 252.4 L737.5 253.3 L738.0 254.2 L738.5 254.8 L739.0 255.0 L739.5 254.9 L740.0 254.6 L740.5 254.2 L741.0 253.7 L741.5 253.3 L742.0 253.0 L742.5 252.8 L743.0 252.5 L743.5 252.3 L744.0 252.1 L744.5 251.9 L745.0 251.7 L745.5 251.6 L746.0 251.6 L746.5 251.8 L747.0 252.2 L747.5 252.8 L748.0 253.5 L748.4 254.0 L748.5 254.1 L749.0 255.0 L749.5 256.0 L750.0 257.0 L750.5 257.7 L751.0 258.0 L751.5 257.3 L752.0 255.7 L752.5 253.7 L753.0 252.0 L753.5 250.5 L754.0 248.8 L754.5 247.5 L755.0 247.0 L755.5 247.7 L756.0 249.2 L756.5 250.8 L756.6 251.0 L757.0 252.0 L757.5 253.4 L758.0 254.7 L758.5 255.6 L759.0 256.0 L759.5 254.6 L760.0 251.5 L760.5 248.4 L761.0 247.0 L761.5 247.7 L762.0 249.6 L762.5 251.9 L763.0 254.0 L763.5 256.1 L764.0 258.5 L764.5 260.6 L765.0 262.0 L765.5 262.9 L766.0 263.7 L766.5 264.2 L767.0 264.4 L767.5 264.1 L768.0 263.2 L768.5 262.0 L769.0 260.8 L769.4 260.0 L769.5 259.8 L770.0 258.8 L770.5 257.7 L771.0 256.6 L771.5 255.9 L772.0 255.6 L772.5 255.8 L773.0 256.2 L773.5 256.9 L774.0 257.6 L774.5 258.4 L775.0 259.0 L775.5 259.6 L776.0 260.4 L776.5 261.0 L777.0 261.5 L777.4 261.6 L777.5 261.6 L778.0 261.4 L778.5 261.0 L779.0 260.6 L779.5 260.2 L780.0 260.0 L780.5 259.9 L781.0 259.9 L781.5 259.8 L782.0 259.8 L782.5 259.8 L783.0 259.7 L783.5 259.7 L784.0 259.6 L784.5 259.4 L785.0 259.1 L785.5 258.6 L786.0 258.0 L786.5 256.7 L787.0 254.5 L787.5 252.1 L788.0 250.0 L788.5 248.2 L789.0 246.4 L789.5 244.9 L790.0 244.0 L790.5 243.6 L791.0 243.3 L791.5 243.1 L792.0 243.0 L792.5 243.3 L793.0 243.9 L793.5 244.6 L794.0 245.0 L794.5 245.2 L795.0 245.4 L795.5 245.5 L796.0 245.6 L796.5 245.4 L797.0 244.8 L797.5 243.9 L798.0 242.9 L798.5 241.9 L799.0 241.0 L799.5 240.1 L800.0 239.1 L800.5 238.1 L801.0 237.2 L801.5 236.5 L802.0 236.0 L802.5 235.8 L803.0 235.6 L803.5 235.5 L804.0 235.4 L804.5 235.2 L805.0 235.0 L805.5 234.6 L806.0 234.0 L806.5 233.3 L807.0 232.7 L807.5 232.2 L808.0 232.0 L808.5 232.3 L809.0 233.1 L809.5 234.1 L810.0 235.0 L810.5 236.0 L811.0 237.3 L811.5 238.6 L812.0 239.8 L812.5 240.7 L813.0 241.0 L813.5 240.9 L814.0 240.5 L814.5 240.0 L815.0 239.4 L815.5 238.7 L816.0 238.0 L816.5 237.1 L817.0 235.8 L817.5 234.3 L818.0 232.8 L818.5 231.3 L819.0 230.0 L819.5 228.7 L820.0 227.3 L820.5 225.9 L821.0 224.7 L821.5 223.9 L822.0 223.6 L822.5 224.0 L823.0 224.8 L823.5 226.0 L824.0 227.0 L824.5 228.1 L825.0 229.5 L825.5 230.5 L826.0 231.0 L826.5 230.5 L827.0 229.4 L827.5 227.8 L828.0 226.0 L828.5 224.3 L829.0 223.0 L829.5 221.9 L830.0 220.8 L830.5 219.7 L831.0 218.8 L831.5 218.2 L832.0 218.0 L832.5 219.1 L833.0 221.9 L833.5 225.2 L834.0 228.0 L834.5 230.5 L835.0 233.1 L835.5 235.6 L836.0 237.5 L836.5 238.4 L836.6 238.4 L837.0 237.6 L837.5 234.8 L838.0 231.0 L838.5 227.1 L839.0 224.0 L839.5 221.6 L840.0 219.1 L840.5 216.9 L841.0 215.2 L841.5 214.4 L841.6 214.4 L842.0 214.9 L842.5 216.7 L843.0 219.2 L843.5 221.8 L844.0 224.0 L844.5 226.0 L845.0 228.1 L845.5 230.1 L846.0 231.6 L846.5 232.4 L846.6 232.4 L847.0 231.8 L847.5 229.7 L848.0 226.8 L848.5 224.0 L849.0 222.0 L849.5 220.7 L850.0 219.4 L850.5 218.3 L851.0 217.6 L851.4 217.4 L851.5 217.4 L852.0 217.8 L852.5 218.5 L853.0 219.4 L853.5 220.3 L854.0 221.0 L854.5 221.6 L855.0 222.3 L855.5 222.9 L856.0 223.5 L856.5 223.9 L857.0 224.0 L857.5 224.0 L858.0 223.9 L858.5 223.8 L859.0 223.7 L859.5 223.6 L860.0 223.6 L860.5 224.0 L861.0 224.8 L861.5 225.6 L862.0 226.0 L862.5 225.6 L863.0 224.7 L863.5 223.5 L864.0 222.1 L864.5 220.9 L865.0 220.0 L865.5 219.3 L866.0 218.7 L866.5 218.2 L867.0 217.7 L867.5 217.3 L868.0 217.0 L868.5 216.8 L869.0 216.6 L869.5 216.5 L870.0 216.4 L870.5 217.3 L871.0 219.4 L871.5 221.9 L872.0 224.0 L872.5 225.8 L873.0 227.6 L873.5 229.0 L874.0 229.6 L874.5 229.6 L875.0 229.4 L875.5 229.2 L876.0 229.0 L876.5 228.3 L877.0 227.1 L877.5 225.7 L878.0 224.7 L878.4 224.4 L878.5 224.4 L879.0 225.1 L879.5 226.4 L880.0 228.2 L880.5 230.2 L881.0 232.0 L881.5 234.0 L882.0 236.2 L882.5 238.4 L883.0 240.0 L883.5 241.2 L884.0 242.4 L884.5 243.4 L885.0 244.1 L885.5 244.4 L885.6 244.4 L886.0 244.0 L886.5 242.6 L887.0 240.6 L887.5 238.6 L888.0 237.0 L888.5 235.6 L889.0 234.2 L889.5 232.9 L890.0 231.9 L890.5 231.4 L890.6 231.4 L891.0 231.5 L891.5 232.0 L892.0 232.6 L892.5 233.3 L893.0 234.0 L893.5 234.7 L894.0 235.6 L894.5 236.4 L895.0 237.2 L895.5 237.8 L896.0 238.0 L896.5 237.8 L897.0 237.4 L897.5 236.8 L898.0 236.2 L898.5 235.8 L899.0 235.6 L899.5 235.6 L900.0 235.6 L900.5 235.6 L901.0 235.6 L901.5 235.6 L902.0 235.6 L902.5 235.7 L903.0 236.0 L903.5 236.4 L904.0 237.0 L904.5 237.5 L905.0 238.0 L905.5 238.5 L906.0 239.1 L906.5 239.8 L907.0 240.5 L907.5 241.1 L908.0 241.6 L908.5 242.1 L909.0 242.5 L909.5 242.9 L910.0 243.3 L910.5 243.6 L911.0 244.0 L911.5 244.4 L912.0 244.7 L912.5 245.0 L913.0 245.3 L913.5 245.7 L914.0 246.0 L914.5 246.4 L915.0 246.8 L915.5 247.2 L916.0 247.5 L916.4 247.6 L916.5 247.6 L917.0 247.2 L917.5 246.3 L918.0 245.1 L918.5 244.0 L919.0 243.0 L919.5 242.1 L920.0 241.1 L920.5 240.3 L921.0 240.0 L921.5 240.6 L922.0 241.8 L922.5 243.2 L923.0 244.0 L923.5 244.4 L924.0 244.7 L924.5 244.9 L925.0 245.0 L925.5 243.6 L926.0 240.3 L926.5 236.6 L926.6 236.0 L927.0 233.3 L927.5 229.6 L928.0 225.9 L928.5 222.5 L929.0 220.0 L929.5 218.1 L930.0 216.5 L930.5 215.2 L931.0 214.4 L931.5 214.0 L932.0 213.7 L932.4 213.6 L932.5 213.6 L933.0 214.2 L933.5 215.3 L934.0 216.9 L934.5 218.5 L935.0 220.0 L935.5 221.4 L936.0 222.9 L936.5 224.5 L937.0 226.1 L937.5 227.6 L938.0 229.0 L938.5 230.3 L939.0 231.5 L939.5 232.7 L940.0 233.8 L940.5 234.9 L941.0 236.0 L941.5 237.3 L942.0 238.0 L942.5 237.7 L943.0 236.9 L943.5 235.6 L944.0 234.0 L944.5 230.6 L945.0 224.7 L945.5 217.5 L946.0 210.0 L946.5 201.5 L947.0 191.4 L947.5 181.7 L948.0 174.0 L948.5 167.9 L949.0 162.6 L949.5 159.3 L949.6 159.0 L950.0 158.2 L950.5 157.6 L950.6 157.6 L951.0 159.2 L951.5 164.2 L952.0 170.0 L952.5 176.1 L953.0 183.1 L953.5 190.1 L954.0 196.0 L954.5 201.1 L955.0 205.7 L955.5 208.7 L955.6 209.0 L956.0 209.9 L956.5 210.7 L957.0 211.0 L957.5 210.7 L958.0 210.0 L958.5 209.1 L959.0 208.0 L959.5 206.6 L960.0 204.6 L960.5 202.3 L961.0 200.0 L961.5 197.5 L962.0 194.8 L962.5 192.2 L963.0 190.0 L963.5 188.0 L964.0 186.1 L964.5 184.6 L965.0 184.0 L965.5 184.1 L966.0 184.3 L966.5 184.6 L967.0 185.0 L967.5 185.7 L968.0 186.7 L968.5 187.9 L969.0 189.0 L969.5 190.1 L970.0 191.4 L970.5 192.6 L971.0 193.6 L971.4 194.0 L971.5 194.1 L972.0 194.4 L972.5 194.6 L973.0 194.8 L973.5 195.0 L974.0 195.0 L974.5 194.8 L975.0 194.5 L975.5 194.2 L976.0 194.0 L976.5 194.5 L977.0 195.5 L977.5 196.5 L978.0 197.0 L978.5 196.6 L979.0 195.6 L979.5 194.3 L980.0 193.0 L980.5 191.6 L981.0 189.8 L981.5 188.0 L982.0 186.4 L982.5 185.2 L982.6 185.0 L983.0 184.4 L983.5 183.7 L984.0 183.1 L984.5 182.7 L985.0 182.6 L985.5 182.7 L986.0 182.8 L986.5 183.1 L987.0 183.4 L987.5 183.7 L988.0 184.0 L988.5 184.4 L989.0 185.1 L989.5 185.7 L990.0 186.4 L990.5 186.8 L991.0 187.0 L991.5 186.8 L992.0 186.4 L992.5 185.9 L993.0 185.4 L993.5 185.0 L993.6 185.0 L994.0 184.9 L994.5 184.8 L995.0 184.7 L995.5 184.6 L996.0 184.4 L996.5 183.6 L997.0 182.3 L997.5 180.8 L998.0 180.0 L998.5 179.7 L999.0 179.5 L999.4 179.4 L999.5 179.6 L1000.0 184.0 L1000.5 190.8 L1000.6 192.0 L1001.0 197.1 L1001.5 204.1 L1002.0 210.0 L1002.5 214.9 L1003.0 219.2 L1003.5 221.8 L1003.6 222.0 L1004.0 222.5 L1004.5 222.9 L1005.0 223.2 L1005.5 223.5 L1006.0 224.0 L1006.5 224.9 L1007.0 226.2 L1007.5 227.7 L1008.0 229.0 L1008.5 230.4 L1009.0 231.8 L1009.5 233.0 L1010.0 233.6 L1010.5 233.8 L1011.0 233.9 L1011.5 234.0 L1012.0 234.0 L1012.5 233.8 L1013.0 233.3 L1013.5 232.8 L1014.0 232.3 L1014.5 232.0 L1014.6 232.0 L1015.0 232.0 L1015.5 232.2 L1016.0 232.4 L1016.5 232.7 L1017.0 233.0 L1017.5 233.5 L1018.0 234.1 L1018.5 234.9 L1019.0 235.7 L1019.5 236.4 L1020.0 237.0 L1020.5 237.5 L1021.0 237.9 L1021.5 238.3 L1022.0 238.7 L1022.5 238.9 L1023.0 239.0 L1023.5 238.6 L1024.0 237.7 L1024.5 236.8 L1025.0 236.4 L1025.5 236.5 L1026.0 236.9 L1026.5 237.4 L1027.0 238.0 L1027.5 239.6 L1028.0 242.3 L1028.5 244.7 L1028.6 245.0 L1029.0 246.2 L1029.5 247.5 L1030.0 248.0 L1030.5 246.7 L1031.0 243.4 L1031.4 240.0 L1031.5 239.0 L1032.0 231.0 L1032.4 224.0 L1032.5 222.4 L1033.0 214.3 L1033.5 206.5 L1034.0 200.0 L1034.5 194.6 L1035.0 190.0 L1035.5 186.5 L1035.6 186.0 L1036.0 184.1 L1036.5 182.4 L1036.8 182.0 L1037.0 182.3 L1037.5 185.5 L1038.0 190.0 L1038.5 196.1 L1039.0 203.9 L1039.4 210.0 L1039.5 211.4 L1040.0 218.5 L1040.5 225.5 L1041.0 232.0 L1041.5 239.2 L1042.0 245.8 L1042.4 248.0 L1042.5 247.9 L1043.0 244.1 L1043.5 238.1 L1044.0 234.0 L1044.5 232.3 L1045.0 231.0 L1045.5 230.4 L1045.6 230.4 L1046.0 230.9 L1046.5 232.2 L1047.0 233.5 L1047.4 234.0 L1047.5 234.0 L1048.0 233.6 L1048.5 232.8 L1049.0 232.0 L1049.5 230.9 L1050.0 229.6 L1050.5 228.5 L1051.0 228.0 L1051.5 228.3 L1052.0 229.1 L1052.5 229.9 L1053.0 230.4 L1053.5 230.6 L1054.0 230.8 L1054.5 231.0 L1055.0 231.0 L1055.5 230.4 L1056.0 229.0 L1056.5 227.3 L1057.0 226.0 L1057.5 225.0 L1058.0 224.1 L1058.5 223.3 L1059.0 222.8 L1059.4 222.6 L1059.5 222.6 L1060.0 223.3 L1060.5 224.5 L1061.0 226.0 L1061.5 228.0 L1062.0 230.6 L1062.5 233.4 L1063.0 236.0 L1063.5 238.6 L1064.0 241.4 L1064.5 244.0 L1065.0 246.0 L1065.5 247.0 L1065.6 247.0 L1066.0 246.7 L1066.5 245.6 L1067.0 243.9 L1067.5 241.9 L1068.0 240.0 L1068.5 237.6 L1069.0 234.7 L1069.5 232.0 L1070.0 230.0 L1070.5 228.7 L1071.0 227.6 L1071.5 226.8 L1072.0 226.4 L1072.5 226.3 L1073.0 226.1 L1073.5 226.1 L1074.0 226.0 L1074.4 226.0 L1074.5 226.0 L1075.0 226.5 L1075.5 227.5 L1076.0 228.7 L1076.5 229.8 L1076.6 230.0 L1077.0 230.7 L1077.5 231.7 L1078.0 232.6 L1078.5 233.0 L1078.6 233.0 L1079.0 232.8 L1079.5 232.2 L1080.0 231.2 L1080.5 230.1 L1081.0 229.0 L1081.5 227.8 L1082.0 226.3 L1082.5 225.0 L1083.0 224.0 L1083.5 223.3 L1084.0 222.8 L1084.4 222.6 L1084.5 222.6 L1085.0 222.9 L1085.5 223.4 L1086.0 224.0 L1086.5 224.6 L1087.0 225.0 L1087.5 225.3 L1088.0 225.5 L1088.5 225.8 L1089.0 226.0 L1089.5 226.2 L1090.0 226.4 L1090.5 226.6 L1091.0 226.9 L1091.5 227.2 L1092.0 227.4 L1092.5 227.5 L1093.0 227.6 L1093.5 227.6 L1094.0 227.6 L1094.5 227.5 L1095.0 227.5 L1095.5 227.5 L1096.0 227.4 L1096.5 227.3 L1097.0 227.1 L1097.5 226.9 L1098.0 226.6 L1098.5 226.5 L1099.0 226.4 L1099.5 226.4 L1100.0 226.4 L1100.5 226.4 L1101.0 226.4 L1101.5 226.4 L1102.0 226.4 L1102.5 226.6 L1103.0 227.1 L1103.5 227.7 L1104.0 228.3 L1104.5 228.8 L1105.0 229.0 L1105.5 228.7 L1106.0 228.1 L1106.5 227.1 L1107.0 226.0 L1107.5 224.9 L1108.0 224.0 L1108.5 223.1 L1109.0 222.1 L1109.5 221.3 L1110.0 221.0 L1110.5 221.1 L1111.0 221.5 L1111.5 221.9 L1112.0 222.4 L1112.5 223.0 L1113.0 223.7 L1113.5 224.4 L1114.0 224.9 L1114.4 225.0 L1114.5 225.0 L1115.0 224.7 L1115.5 224.1 L1116.0 223.3 L1116.5 222.6 L1117.0 222.0 L1117.5 221.6 L1118.0 221.3 L1118.5 221.1 L1119.0 220.8 L1119.5 220.4 L1120.0 220.0 L1120.5 219.3 L1121.0 218.2 L1121.5 217.1 L1122.0 216.0 L1122.5 214.9 L1123.0 213.7 L1123.5 212.7 L1124.0 212.0 L1124.5 211.5 L1125.0 211.2 L1125.5 211.0 L1125.6 211.0 L1126.0 211.2 L1126.5 212.0 L1127.0 213.0 L1127.5 214.1 L1128.0 215.0 L1128.5 215.7 L1129.0 216.4 L1129.5 217.0 L1130.0 217.6 L1130.5 218.1 L1131.0 218.4 L1131.5 218.6 L1132.0 218.7 L1132.5 218.8 L1133.0 219.0 L1133.5 219.8 L1134.0 221.2 L1134.5 222.7 L1135.0 224.0 L1135.5 225.0 L1136.0 226.0 L1136.5 226.7 L1137.0 227.0 L1137.5 226.2 L1138.0 224.3 L1138.5 222.0 L1139.0 220.0 L1139.5 218.2 L1140.0 216.2 L1140.5 214.6 L1141.0 214.0 L1141.5 215.1 L1142.0 217.7 L1142.4 220.0 L1142.5 220.6 L1143.0 224.5 L1143.5 228.7 L1144.0 231.0 L1144.5 231.6 L1145.0 232.0 L1145.5 232.3 L1146.0 232.4 L1146.5 232.3 L1147.0 232.2 L1147.5 232.1 L1148.0 232.0 L1148.5 233.1 L1149.0 235.6 L1149.5 238.3 L1150.0 240.0 L1150.5 240.7 L1151.0 241.3 L1151.5 241.8 L1152.0 242.0 L1152.5 242.1 L1153.0 242.2 L1153.5 242.2 L1154.0 242.3 L1154.5 242.3 L1155.0 242.4 L1155.5 242.6 L1156.0 242.9 L1156.5 243.3 L1157.0 243.6 L1157.5 243.9 L1158.0 244.0 L1158.5 243.8 L1159.0 243.4 L1159.5 242.9 L1160.0 242.3 L1160.5 241.7 L1161.0 241.4 L1161.5 241.2 L1162.0 241.1 L1162.5 241.0 L1163.0 240.8 L1163.5 240.7 L1164.0 240.6 L1164.5 240.5 L1165.0 240.3 L1165.5 240.2 L1166.0 240.0 L1166.5 239.8 L1167.0 239.6 L1167.5 239.2 L1168.0 238.6 L1168.5 237.9 L1169.0 237.3 L1169.5 237.0 L1169.6 237.0 L1170.0 237.4 L1170.5 238.5 L1171.0 240.2 L1171.5 241.8 L1172.0 243.0 L1172.5 243.9 L1173.0 244.7 L1173.5 245.4 L1174.0 245.6 L1174.5 245.4 L1175.0 245.0 L1175.5 244.3 L1176.0 243.6 L1176.5 242.8 L1177.0 242.0 L1177.5 241.3 L1178.0 240.5 L1178.5 239.7 L1179.0 238.8 L1179.5 237.9 L1180.0 237.0 L1180.5 236.0 L1181.0 234.9 L1181.5 233.7 L1182.0 232.6 L1182.5 231.7 L1183.0 231.0 L1183.5 230.5 L1184.0 230.2 L1184.5 229.9 L1185.0 229.6 L1185.5 229.3 L1186.0 229.1 L1186.5 229.0 L1186.6 229.0 L1187.0 230.4 L1187.5 234.8 L1188.0 240.0 L1188.5 246.4 L1189.0 253.7 L1189.4 258.0 L1189.5 258.7 L1190.0 262.2 L1190.5 264.9 L1191.0 266.0 L1191.5 264.7 L1192.0 262.0 L1192.4 260.0 L1192.5 259.6 L1193.0 257.1 L1193.5 254.9 L1194.0 253.6 L1194.5 253.2 L1195.0 253.0 L1195.5 254.0 L1196.0 256.5 L1196.5 259.4 L1196.6 260.0 L1197.0 262.6 L1197.5 266.5 L1198.0 270.0 L1198.5 272.8 L1199.0 275.2 L1199.5 277.6 L1200.0 280.0 L1200.5 282.9 L1201.0 285.7 L1201.4 287.0 L1201.5 287.2 L1202.0 288.0 L1202.5 288.7 L1203.0 289.3 L1203.5 289.7 L1204.0 289.9 L1204.4 290.0 L1204.5 290.0 L1205.0 289.8 L1205.5 289.5 L1206.0 289.0 L1206.5 288.5 L1207.0 288.0 L1207.5 287.4 L1208.0 286.7 L1208.5 285.9 L1209.0 285.0 L1209.5 284.3 L1210.0 283.6 L1210.5 283.0 L1211.0 282.3 L1211.5 281.7 L1212.0 281.1 L1212.5 280.7 L1213.0 280.6 L1213.5 280.7 L1214.0 281.0 L1214.5 281.5 L1215.0 282.0 L1215.5 282.5 L1216.0 283.0 L1216.5 283.5 L1217.0 284.1 L1217.5 284.7 L1218.0 285.3 L1218.5 285.7 L1219.0 286.0 L1219.5 286.2 L1220.0 286.3 L1220.5 286.4 L1221.0 286.4 L1221.5 285.9 L1222.0 284.6 L1222.5 283.1 L1223.0 282.0 L1223.5 281.2 L1224.0 280.4 L1224.5 279.8 L1225.0 279.6 L1225.5 280.0 L1226.0 280.9 L1226.5 282.0 L1227.0 283.0 L1227.5 284.0 L1228.0 285.1 L1228.5 286.0 L1229.0 286.4 L1229.5 286.2 L1230.0 285.5 L1230.5 284.8 L1231.0 284.0 L1231.5 283.2 L1232.0 282.2 L1232.5 281.3 L1233.0 281.0 L1233.5 281.2 L1234.0 281.6 L1234.5 282.3 L1235.0 283.0 L1235.5 283.8 L1235.6 284.0 L1236.0 284.7 L1236.5 285.6 L1237.0 286.8 L1237.5 288.2 L1238.0 290.0 L1238.5 292.8 L1239.0 296.7 L1239.4 300.0 L1239.5 300.8 L1240.0 305.4 L1240.5 310.1 L1241.0 314.0 L1241.5 317.4 L1242.0 320.4 L1242.5 321.9 L1242.6 322.0 L1243.0 320.3 L1243.5 315.3 L1244.0 310.0 L1244.5 305.3 L1245.0 300.6 L1245.4 298.0 L1245.5 297.5 L1246.0 295.3 L1246.5 294.0 L1246.6 294.0 L1247.0 294.8 L1247.5 297.4 L1248.0 300.0 L1248.5 302.7 L1249.0 304.4 L1249.5 302.0 L1250.0 297.2 L1250.4 294.0 L1250.5 293.4 L1251.0 290.6 L1251.5 288.0 L1252.0 286.1 L1252.4 285.6 L1252.5 285.6 L1253.0 285.9 L1253.5 286.4 L1254.0 287.0 L1254.5 288.0 L1255.0 289.2 L1255.5 290.0 L1255.6 290.0 L1256.0 289.6 L1256.5 288.4 L1257.0 286.9 L1257.5 285.6 L1258.0 285.0 L1258.5 285.5 L1259.0 286.6 L1259.5 287.8 L1259.6 288.0 L1260.0 288.9 L1260.5 290.2 L1261.0 291.3 L1261.4 291.6 L1261.5 291.5 L1262.0 289.9 L1262.5 287.0 L1263.0 284.0 L1263.5 281.1 L1264.0 278.0 L1264.5 274.8 L1265.0 272.0 L1265.5 269.4 L1266.0 267.0 L1266.5 264.8 L1267.0 263.0 L1267.5 261.6 L1268.0 260.5 L1268.5 259.4 L1269.0 258.4 L1269.5 257.3 L1269.6 257.0 L1270.0 255.9 L1270.5 254.4 L1271.0 252.9 L1271.5 251.4 L1272.0 250.0 L1272.5 248.6 L1273.0 247.1 L1273.5 245.8 L1274.0 245.0 L1274.5 244.5 L1275.0 244.0 L1275.5 243.7 L1276.0 243.6 L1276.5 244.2 L1277.0 245.7 L1277.5 247.8 L1278.0 250.0 L1278.5 252.8 L1279.0 256.5 L1279.5 260.5 L1280.0 264.0 L1280.5 266.8 L1281.0 269.4 L1281.4 272.0 L1281.5 272.8 L1282.0 277.6 L1282.5 283.1 L1283.0 288.0 L1283.5 292.0 L1284.0 295.7 L1284.5 298.6 L1284.6 299.0 L1285.0 300.6 L1285.5 302.4 L1286.0 303.8 L1286.5 304.8 L1286.6 305.0 L1287.0 305.6 L1287.5 306.3 L1288.0 306.8 L1288.5 307.0 L1288.6 307.0 L1289.0 306.7 L1289.5 305.6 L1290.0 304.2 L1290.5 302.9 L1291.0 302.0 L1291.5 301.5 L1292.0 301.1 L1292.4 301.0 L1292.5 301.0 L1293.0 301.8 L1293.5 303.1 L1294.0 304.0 L1294.5 304.4 L1295.0 304.7 L1295.5 304.9 L1296.0 305.0 L1296.5 304.2 L1297.0 302.5 L1297.5 300.5 L1298.0 299.0 L1298.5 298.0 L1299.0 297.2 L1299.5 296.5 L1300.0 296.0 L1300.5 295.7 L1301.0 295.6 L1301.5 295.5 L1302.0 295.3 L1302.4 295.0 L1302.5 294.9 L1303.0 292.7 L1303.5 289.3 L1304.0 286.0 L1304.5 282.8 L1305.0 279.5 L1305.5 277.7 L1305.6 277.6 L1306.0 278.5 L1306.5 281.3 L1307.0 284.0 L1307.5 286.1 L1308.0 288.1 L1308.5 289.8 L1309.0 291.0 L1309.5 291.6 L1310.0 292.0 L1310.5 292.4 L1311.0 293.0 L1311.5 294.1 L1312.0 295.7 L1312.5 297.5 L1313.0 299.0 L1313.5 300.5 L1314.0 302.0 L1314.5 303.1 L1315.0 303.6 L1315.5 303.1 L1316.0 301.9 L1316.5 300.4 L1317.0 299.0 L1317.5 297.7 L1318.0 296.2 L1318.5 294.9 L1319.0 294.0 L1319.5 293.4 L1320.0 292.9 L1320.5 292.5 L1321.0 292.4 L1321.5 293.2 L1322.0 295.2 L1322.5 297.5 L1322.6 298.0 L1323.0 300.5 L1323.5 304.3 L1324.0 307.0 L1324.5 308.4 L1325.0 309.5 L1325.5 310.0 L1325.6 310.0 L1326.0 309.9 L1326.5 309.4 L1327.0 308.7 L1327.5 307.8 L1328.0 307.0 L1328.5 306.1 L1329.0 305.2 L1329.5 304.1 L1330.0 303.0 L1330.5 301.8 L1331.0 300.5 L1331.5 299.2 L1332.0 298.0 L1332.5 296.9 L1333.0 295.8 L1333.5 294.8 L1334.0 294.0 L1334.5 293.2 L1335.0 292.4 L1335.5 291.8 L1336.0 291.6 L1336.5 292.3 L1337.0 293.9 L1337.5 296.0 L1338.0 298.0 L1338.5 300.3 L1339.0 302.9 L1339.5 304.3 L1339.6 304.4 L1340.0 304.0 L1340.5 302.8 L1341.0 301.1 L1341.5 299.3 L1341.6 299.0 L1342.0 297.7 L1342.5 296.0 L1343.0 294.2 L1343.5 292.2 L1344.0 290.0 L1344.5 287.3 L1345.0 284.2 L1345.5 281.0 L1346.0 278.0 L1346.5 275.4 L1347.0 272.9 L1347.5 270.5 L1348.0 268.0 L1348.5 265.2 L1349.0 263.0 L1349.5 261.9 L1350.0 261.2 L1350.4 261.0 L1350.5 261.0 L1351.0 261.9 L1351.5 263.3 L1352.0 264.0 L1352.5 263.6 L1353.0 262.5 L1353.5 261.2 L1354.0 260.0 L1354.5 258.9 L1355.0 257.6 L1355.5 256.6 L1356.0 256.0 L1356.5 255.8 L1357.0 255.6 L1357.4 255.6 L1357.5 255.7 L1358.0 257.1 L1358.5 259.5 L1359.0 261.0 L1359.5 261.6 L1360.0 262.0 L1360.5 262.3 L1361.0 262.4 L1361.5 262.3 L1362.0 262.0 L1362.5 261.6 L1363.0 261.0 L1363.5 259.1 L1364.0 256.1 L1364.4 254.0 L1364.5 253.6 L1365.0 251.5 L1365.5 249.7 L1366.0 249.0 L1366.5 249.2 L1367.0 249.8 L1367.5 250.5 L1368.0 251.0 L1368.5 251.3 L1369.0 251.5 L1369.5 251.7 L1370.0 252.0 L1370.5 252.7 L1371.0 253.9 L1371.5 255.1 L1372.0 256.0 L1372.5 256.7 L1373.0 257.3 L1373.5 257.8 L1374.0 258.0 L1374.5 258.0 L1375.0 258.0 L1375.5 258.0 L1376.0 258.0 L1376.5 258.0 L1377.0 258.0 L1377.5 257.9 L1378.0 257.6 L1378.5 257.2 L1379.0 256.8 L1379.5 256.5 L1380.0 256.4 L1380.5 256.5 L1381.0 256.7 L1381.5 257.0 L1382.0 257.4 L1382.5 257.7 L1383.0 258.0 L1383.5 258.3 L1384.0 258.6 L1384.5 258.9 L1385.0 259.0 L1385.5 258.9 L1386.0 258.7 L1386.5 258.3 L1387.0 257.9 L1387.5 257.4 L1388.0 257.0 L1388.5 256.6 L1389.0 256.2 L1389.5 255.7 L1390.0 255.2 L1390.5 254.6 L1391.0 254.0 L1391.5 253.1 L1392.0 252.0 L1392.5 250.9 L1393.0 250.0 L1393.5 249.3 L1394.0 248.7 L1394.5 248.2 L1395.0 248.0 L1395.5 248.6 L1396.0 250.1 L1396.5 252.0 L1397.0 254.0 L1397.5 256.0 L1398.0 258.4 L1398.5 261.0 L1399.0 264.0 L1399.5 267.7 L1400.0 272.0 L1400.5 277.4 L1401.0 283.1 L1401.4 286.0 L1401.5 286.4 L1402.0 288.3 L1402.5 289.7 L1403.0 290.4 L1403.5 290.7 L1404.0 290.9 L1404.5 291.0 L1405.0 291.1 L1405.5 291.3 L1406.0 291.6 L1406.5 293.2 L1407.0 296.3 L1407.5 299.5 L1407.6 300.0 L1408.0 302.4 L1408.5 305.7 L1409.0 308.2 L1409.4 309.0 L1409.5 308.9 L1410.0 306.9 L1410.5 303.3 L1411.0 300.0 L1411.5 297.3 L1412.0 294.7 L1412.4 293.0 L1412.5 292.7 L1413.0 291.3 L1413.5 290.2 L1414.0 289.1 L1414.4 288.0 L1414.5 287.7 L1415.0 285.7 L1415.5 283.5 L1416.0 282.0 L1416.5 281.1 L1417.0 280.3 L1417.5 279.8 L1418.0 279.6 L1418.5 279.6 L1419.0 279.8 L1419.5 279.9 L1420.0 280.2 L1420.5 280.4 L1421.0 280.6 L1421.5 280.8 L1422.0 281.0 L1422.5 281.2 L1423.0 281.6 L1423.5 282.5 L1424.0 284.0 L1424.5 286.0 L1425.0 288.0 L1425.5 290.2 L1426.0 292.7 L1426.5 295.4 L1427.0 298.0 L1427.5 300.5 L1428.0 303.1 L1428.5 305.6 L1429.0 308.0 L1429.5 310.3 L1430.0 312.6 L1430.5 314.8 L1431.0 317.0"/>
</g>
<rect x="67.5" y="80.5" width="1429.0" height="387.0" fill="none" stroke="#000" stroke-width="1.1"/>
<g stroke="#000" stroke-width="1.1">
<line x1="127.50" y1="467.5" x2="127.50" y2="472.4"/>
<line x1="342.50" y1="467.5" x2="342.50" y2="472.4"/>
<line x1="560.50" y1="467.5" x2="560.50" y2="472.4"/>
<line x1="778.50" y1="467.5" x2="778.50" y2="472.4"/>
<line x1="999.50" y1="467.5" x2="999.50" y2="472.4"/>
<line x1="1218.50" y1="467.5" x2="1218.50" y2="472.4"/>
<line x1="1436.50" y1="467.5" x2="1436.50" y2="472.4"/>
<line x1="67.5" y1="124.50" x2="62.6" y2="124.50"/>
<line x1="67.5" y1="181.50" x2="62.6" y2="181.50"/>
<line x1="67.5" y1="238.50" x2="62.6" y2="238.50"/>
<line x1="67.5" y1="294.50" x2="62.6" y2="294.50"/>
<line x1="67.5" y1="351.50" x2="62.6" y2="351.50"/>
<line x1="67.5" y1="408.50" x2="62.6" y2="408.50"/>
<line x1="67.5" y1="464.50" x2="62.6" y2="464.50"/>
</g>
<g font-size="19.44" text-anchor="middle" letter-spacing="-0.12">
<text x="127.15" y="491.6">2008-01</text>
<text x="341.25" y="491.6">2008-03</text>
<text x="559.25" y="491.6">2008-05</text>
<text x="777.25" y="491.6">2008-07</text>
<text x="999.25" y="491.6">2008-09</text>
<text x="1217.25" y="491.6">2008-11</text>
<text x="1435.30" y="491.6">2009-01</text>
</g>
<g font-size="19.44" text-anchor="end">
<text x="57.4" y="131.90">1</text>
<text x="57.4" y="187.90">0</text>
<text x="56.7" y="244.90">−<tspan dx="-0.7">1</tspan></text>
<text x="56.7" y="301.90">−<tspan dx="-0.7">2</tspan></text>
<text x="56.7" y="357.90">−<tspan dx="-0.7">3</tspan></text>
<text x="56.7" y="414.90">−<tspan dx="-0.7">4</tspan></text>
<text x="56.7" y="471.90">−<tspan dx="-0.7">5</tspan></text>
</g>
<text font-size="19.44" text-anchor="middle" transform="translate(18.0 274.5) rotate(-90)">Sea water temperature [C]</text>
<rect x="1384.5" y="87.5" width="105" height="46" rx="2.8" ry="2.8" fill="#fff" fill-opacity="0.8" stroke="#ccc" stroke-width="1.1"/>
<line x1="1388" y1="99.4" x2="1418.8" y2="99.4" stroke="#000" stroke-width="2.78"/>
<line x1="1388" y1="120.5" x2="1418.8" y2="120.5" stroke="#f00" stroke-width="2.78"/>
<text x="1429.1" y="104.3" font-size="13.89" letter-spacing="-0.33">data</text>
<text x="1429.1" y="125.4" font-size="13.89" letter-spacing="-0.26">NWGOA</text>
</svg></body></html>
